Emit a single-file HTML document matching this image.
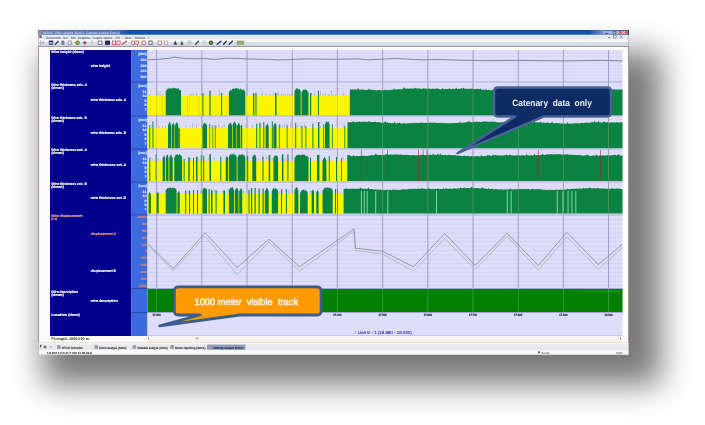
<!DOCTYPE html>
<html><head><meta charset="utf-8"><style>
html,body{margin:0;padding:0;width:705px;height:425px;overflow:hidden;background:#fff;font-family:"Liberation Sans",sans-serif}
text{font-family:"Liberation Sans",sans-serif;text-rendering:geometricPrecision}
</style></head><body>
<svg width="705" height="425" viewBox="0 0 705 425" style="position:absolute;left:0;top:0;filter:blur(0.45px)">
<defs><filter id="sh" x="-20%" y="-20%" width="140%" height="140%"><feGaussianBlur stdDeviation="16"/></filter></defs>
<rect x="43" y="52" width="618" height="333" fill="#000" opacity="0.53" filter="url(#sh)"/>
<rect x="38" y="30" width="591" height="325" fill="#fbfaf6"/>
<rect x="38.5" y="30.5" width="590" height="324" fill="none" stroke="#989898" stroke-width="1"/>
<rect x="38" y="30.2" width="591" height="4.5" fill="#1250b4"/>
<rect x="38" y="30.2" width="591" height="0.7" fill="#0a3e94"/>
<rect x="38" y="34.0" width="591" height="0.7" fill="#0a3e94"/>
<defs><linearGradient id="tg" x1="0" x2="1"><stop offset="0" stop-color="#6a80b8"/><stop offset="0.85" stop-color="#5872b8"/><stop offset="1" stop-color="#1048b0"/></linearGradient><linearGradient id="tg2" x1="0" x2="1"><stop offset="0" stop-color="#1048b0"/><stop offset="1" stop-color="#7890c8"/></linearGradient></defs>
<rect x="38" y="30.2" width="92" height="4.5" fill="url(#tg)"/>
<rect x="588" y="30.2" width="15" height="4.5" fill="url(#tg2)"/>
<rect x="603" y="30.6" width="8" height="3.7" fill="#9ab0d8"/><rect x="611" y="30.6" width="8" height="3.7" fill="#a8b8d8"/><rect x="619" y="30.6" width="9" height="3.7" fill="#c86a6a"/>
<rect x="38.5" y="34.7" width="590" height="2.3" fill="#dceefa"/>
<rect x="38.5" y="37" width="590" height="2.4" fill="#e8e2f0"/>
<rect x="608" y="37.3" width="2.5" height="0.7" fill="#606070"/>
<rect x="613.5" y="35.6" width="2.6" height="2.4" fill="none" stroke="#606070" stroke-width="0.5"/>
<path d="M620,35.6 L622.6,38 M622.6,35.6 L620,38" stroke="#606070" stroke-width="0.6"/>
<path d="M605.5,31.2 L607.8,33.6 M607.8,31.2 L605.5,33.6" stroke="#ffffff" stroke-width="0" />
<rect x="605" y="33" width="3" height="0.7" fill="#303850"/>
<rect x="613" y="31.3" width="3" height="2.5" fill="none" stroke="#303850" stroke-width="0.5"/>
<path d="M622.2,31.2 L625,33.8 M625,31.2 L622.2,33.8" stroke="#ffffff" stroke-width="0.7"/>
<rect x="38.5" y="39.4" width="590" height="2.6" fill="#f2f8f2"/>
<rect x="38.5" y="42" width="590" height="3" fill="#d4deec"/>
<rect x="38.5" y="45" width="590" height="0.8" fill="#e2e6f8"/>
<rect x="38.5" y="45.8" width="590" height="1.1" fill="#84848c"/>
<rect x="39" y="46.9" width="589" height="295" fill="#fffcf8"/>
<rect x="50" y="50" width="81" height="286" fill="#00008c"/>
<rect x="131" y="50" width="16.5" height="286" fill="#3d6ade"/>
<rect x="131" y="50" width="0.9" height="286" fill="#6474e4"/>
<rect x="52.3" y="50" width="1" height="286" fill="#0c0ca6" opacity="0.6"/>
<rect x="61.3" y="50" width="1" height="286" fill="#0c0ca6" opacity="0.6"/>
<rect x="147.5" y="50" width="475" height="286" fill="#dedefa"/>
<rect x="147.5" y="53.1" width="475" height="0.6" fill="#d5d5f3"/>
<rect x="147.5" y="56.2" width="475" height="0.6" fill="#d5d5f3"/>
<rect x="147.5" y="59.3" width="475" height="0.6" fill="#d5d5f3"/>
<rect x="147.5" y="62.4" width="475" height="0.6" fill="#d5d5f3"/>
<rect x="147.5" y="65.5" width="475" height="0.6" fill="#d5d5f3"/>
<rect x="147.5" y="68.6" width="475" height="0.6" fill="#d5d5f3"/>
<rect x="147.5" y="71.7" width="475" height="0.6" fill="#d5d5f3"/>
<rect x="147.5" y="74.8" width="475" height="0.6" fill="#d5d5f3"/>
<rect x="147.5" y="77.9" width="475" height="0.6" fill="#d5d5f3"/>
<rect x="147.5" y="81.0" width="475" height="0.6" fill="#d5d5f3"/>
<rect x="147.5" y="85.1" width="475" height="0.6" fill="#d5d5f3"/>
<rect x="147.5" y="88.2" width="475" height="0.6" fill="#d5d5f3"/>
<rect x="147.5" y="91.3" width="475" height="0.6" fill="#d5d5f3"/>
<rect x="147.5" y="94.4" width="475" height="0.6" fill="#d5d5f3"/>
<rect x="147.5" y="119.1" width="475" height="0.6" fill="#d5d5f3"/>
<rect x="147.5" y="122.2" width="475" height="0.6" fill="#d5d5f3"/>
<rect x="147.5" y="125.3" width="475" height="0.6" fill="#d5d5f3"/>
<rect x="147.5" y="152.1" width="475" height="0.6" fill="#d5d5f3"/>
<rect x="147.5" y="155.2" width="475" height="0.6" fill="#d5d5f3"/>
<rect x="147.5" y="158.3" width="475" height="0.6" fill="#d5d5f3"/>
<rect x="147.5" y="185.1" width="475" height="0.6" fill="#d5d5f3"/>
<rect x="147.5" y="188.2" width="475" height="0.6" fill="#d5d5f3"/>
<rect x="147.5" y="191.3" width="475" height="0.6" fill="#d5d5f3"/>
<rect x="147.5" y="219.4" width="475" height="0.6" fill="#cacaee"/>
<rect x="147.5" y="223.8" width="475" height="0.6" fill="#cacaee"/>
<rect x="147.5" y="228.2" width="475" height="0.6" fill="#cacaee"/>
<rect x="147.5" y="232.6" width="475" height="0.6" fill="#cacaee"/>
<rect x="147.5" y="237.0" width="475" height="0.6" fill="#cacaee"/>
<rect x="147.5" y="241.4" width="475" height="0.6" fill="#cacaee"/>
<rect x="147.5" y="245.8" width="475" height="0.6" fill="#cacaee"/>
<rect x="147.5" y="250.2" width="475" height="0.6" fill="#cacaee"/>
<rect x="147.5" y="254.6" width="475" height="0.6" fill="#cacaee"/>
<rect x="147.5" y="259.0" width="475" height="0.6" fill="#cacaee"/>
<rect x="147.5" y="263.4" width="475" height="0.6" fill="#cacaee"/>
<rect x="147.5" y="267.8" width="475" height="0.6" fill="#cacaee"/>
<rect x="147.5" y="272.2" width="475" height="0.6" fill="#cacaee"/>
<rect x="147.5" y="276.6" width="475" height="0.6" fill="#cacaee"/>
<rect x="147.5" y="281.0" width="475" height="0.6" fill="#cacaee"/>
<rect x="147.5" y="285.4" width="475" height="0.6" fill="#cacaee"/>
<rect x="156.2" y="50" width="0.9" height="262.5" fill="#8c8cc0" opacity="0.85"/>
<rect x="201.4" y="50" width="0.9" height="262.5" fill="#8c8cc0" opacity="0.85"/>
<rect x="246.6" y="50" width="0.9" height="262.5" fill="#8c8cc0" opacity="0.85"/>
<rect x="291.8" y="50" width="0.9" height="262.5" fill="#8c8cc0" opacity="0.85"/>
<rect x="336.9" y="50" width="0.9" height="262.5" fill="#8c8cc0" opacity="0.85"/>
<rect x="382.2" y="50" width="0.9" height="262.5" fill="#8c8cc0" opacity="0.85"/>
<rect x="427.4" y="50" width="0.9" height="262.5" fill="#8c8cc0" opacity="0.85"/>
<rect x="472.6" y="50" width="0.9" height="262.5" fill="#8c8cc0" opacity="0.85"/>
<rect x="517.8" y="50" width="0.9" height="262.5" fill="#8c8cc0" opacity="0.85"/>
<rect x="562.9" y="50" width="0.9" height="262.5" fill="#8c8cc0" opacity="0.85"/>
<rect x="608.1" y="50" width="0.9" height="262.5" fill="#8c8cc0" opacity="0.85"/>
<rect x="147.5" y="95.8" width="202.5" height="19.7" fill="#faf600"/>
<rect x="261.7" y="92.7" width="0.6" height="3.1" fill="#98a0b4"/>
<rect x="265.6" y="92.7" width="0.6" height="3.1" fill="#98a0b4"/>
<rect x="269.5" y="93.9" width="0.6" height="1.9" fill="#98a0b4"/>
<rect x="273.4" y="91.8" width="0.6" height="4.0" fill="#98a0b4"/>
<rect x="281.2" y="94.1" width="0.6" height="1.7" fill="#98a0b4"/>
<rect x="283.5" y="94.0" width="0.6" height="1.8" fill="#98a0b4"/>
<rect x="287.4" y="93.5" width="0.6" height="2.3" fill="#98a0b4"/>
<rect x="291.3" y="93.7" width="0.6" height="2.1" fill="#98a0b4"/>
<rect x="325.0" y="92.9" width="0.6" height="2.9" fill="#98a0b4"/>
<rect x="329.0" y="94.1" width="0.6" height="1.7" fill="#98a0b4"/>
<rect x="332.0" y="94.3" width="0.6" height="1.5" fill="#98a0b4"/>
<rect x="335.0" y="93.7" width="0.6" height="2.1" fill="#98a0b4"/>
<rect x="262.0" y="93.9" width="0.6" height="1.9" fill="#98a0b4"/>
<rect x="343.0" y="92.8" width="0.6" height="3.0" fill="#98a0b4"/>
<rect x="149.5" y="94.2" width="0.6" height="1.6" fill="#98a0b4"/>
<rect x="156.7" y="90.8" width="0.6" height="5.0" fill="#98a0b4"/>
<rect x="159.7" y="91.8" width="0.6" height="4.0" fill="#98a0b4"/>
<rect x="162.6" y="93.7" width="0.6" height="2.1" fill="#98a0b4"/>
<rect x="190.6" y="93.3" width="0.6" height="2.5" fill="#98a0b4"/>
<rect x="192.8" y="92.9" width="0.6" height="2.9" fill="#98a0b4"/>
<rect x="196.4" y="92.8" width="0.6" height="3.0" fill="#98a0b4"/>
<rect x="204.5" y="93.8" width="0.6" height="2.0" fill="#98a0b4"/>
<rect x="209.7" y="90.9" width="0.6" height="4.9" fill="#98a0b4"/>
<rect x="218.9" y="90.3" width="0.6" height="5.5" fill="#98a0b4"/>
<rect x="255.6" y="92.4" width="0.6" height="3.4" fill="#98a0b4"/>
<rect x="277.8" y="92.4" width="0.6" height="3.4" fill="#98a0b4"/>
<rect x="284.9" y="94.0" width="0.6" height="1.8" fill="#98a0b4"/>
<rect x="289.3" y="93.9" width="0.6" height="1.9" fill="#98a0b4"/>
<rect x="311.4" y="92.9" width="0.6" height="2.9" fill="#98a0b4"/>
<rect x="314.2" y="93.2" width="0.6" height="2.6" fill="#98a0b4"/>
<rect x="320.3" y="91.0" width="0.6" height="4.8" fill="#98a0b4"/>
<rect x="322.8" y="93.7" width="0.6" height="2.1" fill="#98a0b4"/>
<rect x="328.3" y="94.2" width="0.6" height="1.6" fill="#98a0b4"/>
<rect x="331.1" y="90.5" width="0.6" height="5.3" fill="#98a0b4"/>
<rect x="161.8" y="96.8" width="0.8" height="18.7" fill="#e8a000" opacity="0.5"/>
<rect x="187.2" y="96.8" width="0.8" height="18.7" fill="#e8a000" opacity="0.5"/>
<rect x="198.5" y="96.8" width="0.8" height="18.7" fill="#e8a000" opacity="0.5"/>
<path d="M165.7,115.5 L165.7,90.8 L166.5,90.5 L167.3,88.2 L168.1,89.4 L168.9,87.3 L169.7,89.0 L170.5,88.0 L171.3,89.2 L172.1,87.7 L172.9,88.5 L173.8,87.4 L174.6,88.4 L175.4,87.8 L176.2,88.9 L177.0,87.9 L177.8,88.9 L178.6,87.8 L179.4,90.2 L180.2,89.7 L181.0,90.8 L181.0,115.5Z" fill="#0a8241"/>
<path d="M228.9,115.5 L228.9,91.4 L229.7,91.5 L230.5,89.5 L231.4,90.4 L232.2,88.7 L233.0,89.2 L233.8,88.2 L234.6,89.2 L235.5,87.6 L236.3,88.8 L237.1,87.9 L237.9,89.1 L238.7,88.3 L239.6,90.0 L240.4,88.1 L241.2,90.1 L242.0,88.9 L242.8,90.6 L243.7,89.0 L244.5,90.8 L245.3,91.4 L245.3,115.5Z" fill="#0a8241"/>
<path d="M294.5,115.5 L294.5,91.4 L295.4,89.7 L296.3,87.9 L297.2,89.0 L298.0,88.2 L298.9,90.0 L299.8,89.1 L300.7,91.4 L300.7,115.5Z" fill="#0a8241"/>
<path d="M301.5,115.5 L301.5,92.2 L302.4,91.0 L303.2,89.2 L304.1,90.6 L305.0,88.5 L305.9,90.4 L306.8,89.5 L307.6,91.4 L308.5,92.2 L308.5,115.5Z" fill="#0a8241"/>
<rect x="202.4" y="93.0" width="1.0" height="22.5" fill="#0a8241"/>
<rect x="209.4" y="90.6" width="1.2" height="24.9" fill="#0a8241"/>
<rect x="221.1" y="93.0" width="1.0" height="22.5" fill="#0a8241"/>
<rect x="253.1" y="93.0" width="1.2" height="22.5" fill="#0a8241"/>
<rect x="255.5" y="93.0" width="1.0" height="22.5" fill="#0a8241"/>
<rect x="275.0" y="93.0" width="1.5" height="22.5" fill="#0a8241"/>
<rect x="310.0" y="93.0" width="1.2" height="22.5" fill="#0a8241"/>
<rect x="317.9" y="90.6" width="1.0" height="24.9" fill="#0a8241"/>
<rect x="349.8" y="92.0" width="1.4" height="23.5" fill="#0a8241"/>
<path d="M350.0,115.5 L350.0,89.2 L350.8,89.3 L351.6,89.8 L352.4,89.4 L353.2,89.6 L354.0,89.2 L354.8,89.7 L355.6,89.2 L356.4,89.8 L357.2,89.4 L358.0,87.6 L358.8,89.6 L359.6,89.8 L360.4,89.8 L361.2,89.4 L362.0,89.4 L362.8,89.7 L363.6,89.6 L364.4,90.0 L365.2,89.7 L366.0,90.0 L366.8,90.1 L367.6,89.8 L368.4,89.5 L369.2,88.2 L370.0,89.7 L370.8,90.1 L371.6,89.8 L372.4,90.0 L373.2,89.7 L374.0,89.9 L374.8,90.3 L375.6,90.1 L376.4,90.4 L377.2,90.2 L378.0,90.1 L378.8,90.1 L379.6,90.1 L380.4,90.3 L381.2,90.5 L382.0,90.2 L382.8,90.4 L383.6,89.9 L384.4,89.8 L385.2,89.8 L386.0,90.3 L386.8,89.8 L387.6,90.1 L388.4,90.3 L389.2,89.8 L390.0,89.9 L390.8,90.2 L391.6,89.6 L392.4,89.8 L393.2,89.5 L394.0,88.7 L394.8,88.7 L395.6,89.7 L396.4,89.2 L397.2,89.7 L398.0,89.1 L398.8,89.0 L399.6,89.2 L400.4,89.2 L401.2,89.4 L402.0,88.9 L402.8,89.1 L403.6,87.5 L404.4,87.4 L405.2,89.0 L406.0,88.6 L406.8,88.6 L407.6,88.8 L408.4,88.8 L409.2,88.6 L410.0,88.7 L410.8,88.4 L411.6,88.4 L412.4,88.5 L413.2,88.8 L414.0,88.6 L414.8,87.6 L415.6,88.3 L416.4,88.6 L417.2,88.6 L418.0,88.3 L418.8,88.6 L419.6,88.8 L420.4,88.6 L421.2,89.0 L422.0,88.9 L422.8,88.8 L423.6,87.9 L424.4,88.4 L425.2,88.6 L426.0,88.5 L426.8,89.0 L427.6,88.7 L428.4,88.7 L429.2,88.6 L430.0,88.7 L430.8,89.2 L431.6,88.8 L432.4,88.8 L433.2,88.6 L434.0,89.0 L434.8,88.8 L435.6,88.7 L436.4,88.8 L437.2,87.8 L438.0,88.9 L438.8,89.1 L439.6,89.2 L440.4,89.4 L441.2,89.0 L442.0,88.9 L442.8,87.8 L443.6,89.4 L444.4,89.3 L445.2,88.8 L446.0,89.1 L446.8,89.3 L447.6,89.1 L448.4,89.1 L449.2,88.1 L450.0,88.9 L450.8,89.2 L451.6,89.0 L452.4,89.0 L453.2,88.5 L454.0,89.0 L454.8,88.9 L455.6,88.5 L456.4,87.8 L457.2,88.9 L458.0,88.9 L458.8,88.7 L459.6,88.7 L460.4,88.9 L461.2,88.1 L462.0,88.5 L462.8,88.6 L463.6,87.5 L464.4,88.8 L465.2,88.8 L466.0,88.7 L466.8,88.7 L467.6,89.0 L468.4,89.1 L469.2,88.4 L470.0,89.0 L470.8,88.8 L471.6,88.6 L472.4,88.7 L473.2,88.7 L474.0,89.3 L474.8,89.2 L475.6,89.3 L476.4,88.9 L477.2,88.5 L478.0,89.2 L478.8,89.1 L479.6,89.2 L480.4,88.2 L481.2,89.6 L482.0,89.7 L482.8,89.8 L483.6,89.5 L484.4,90.0 L485.2,89.6 L486.0,88.9 L486.8,90.0 L487.6,90.1 L488.4,89.7 L489.2,89.7 L490.0,90.3 L490.8,90.2 L491.6,90.3 L492.4,90.1 L493.2,89.8 L494.0,90.1 L494.8,90.2 L495.6,89.9 L496.4,89.9 L497.2,90.1 L498.0,90.4 L498.8,90.0 L499.6,90.1 L500.4,90.1 L501.2,90.0 L502.0,90.5 L502.8,90.0 L503.6,90.5 L504.4,89.9 L505.2,89.9 L506.0,89.8 L506.8,89.9 L507.6,90.3 L508.4,90.0 L509.2,90.0 L510.0,89.0 L510.8,90.3 L511.6,89.9 L512.4,90.1 L513.2,89.7 L514.0,89.7 L514.8,90.1 L515.6,89.3 L516.4,89.8 L517.2,89.6 L518.0,89.3 L518.8,89.9 L519.6,89.8 L520.4,89.3 L521.2,89.2 L522.0,89.6 L522.8,89.6 L523.6,89.6 L524.4,88.1 L525.2,89.2 L526.0,89.5 L526.8,89.1 L527.6,89.5 L528.4,88.0 L529.2,89.4 L530.0,89.2 L530.8,89.0 L531.6,89.3 L532.4,89.5 L533.2,89.4 L534.0,89.2 L534.8,89.5 L535.6,89.1 L536.4,89.5 L537.2,89.3 L538.0,89.7 L538.8,89.1 L539.6,89.4 L540.4,89.3 L541.2,89.7 L542.0,89.3 L542.8,89.4 L543.6,89.4 L544.4,89.7 L545.2,89.9 L546.0,89.4 L546.8,89.5 L547.6,89.9 L548.4,89.5 L549.2,89.9 L550.0,88.3 L550.8,89.9 L551.6,89.7 L552.4,89.9 L553.2,89.3 L554.0,88.4 L554.8,89.4 L555.6,89.4 L556.4,89.1 L557.2,89.3 L558.0,89.1 L558.8,89.1 L559.6,89.5 L560.4,88.1 L561.2,89.1 L562.0,89.0 L562.8,88.4 L563.6,89.3 L564.4,88.1 L565.2,89.3 L566.0,89.1 L566.8,88.8 L567.6,89.2 L568.4,88.6 L569.2,88.6 L570.0,88.4 L570.8,88.9 L571.6,88.1 L572.4,88.6 L573.2,88.9 L574.0,88.3 L574.8,88.5 L575.6,88.2 L576.4,88.6 L577.2,88.6 L578.0,88.2 L578.8,88.2 L579.6,88.0 L580.4,88.5 L581.2,86.8 L582.0,88.2 L582.8,88.6 L583.6,88.1 L584.4,88.0 L585.2,88.5 L586.0,88.2 L586.8,88.4 L587.6,88.6 L588.4,88.5 L589.2,88.7 L590.0,88.5 L590.8,88.7 L591.6,88.4 L592.4,88.3 L593.2,88.7 L594.0,88.6 L594.8,88.7 L595.6,89.0 L596.4,89.2 L597.2,88.8 L598.0,89.1 L598.8,88.6 L599.6,88.7 L600.4,89.4 L601.2,89.4 L602.0,89.4 L602.8,89.0 L603.6,89.5 L604.4,89.3 L605.2,89.1 L606.0,89.1 L606.8,89.2 L607.6,89.5 L608.4,89.1 L609.2,89.6 L610.0,89.3 L610.8,89.7 L611.6,89.2 L612.4,89.4 L613.2,89.6 L614.0,89.3 L614.8,89.5 L615.6,89.4 L616.4,89.4 L617.2,89.4 L618.0,89.8 L618.8,89.4 L619.6,89.7 L620.4,89.2 L621.2,89.4 L622.0,89.4 L622.5,89.3 L622.5,115.5Z" fill="#0a8241"/>
<rect x="147.5" y="128.2" width="200.0" height="20.0" fill="#faf600"/>
<rect x="151.8" y="124.7" width="0.6" height="3.5" fill="#98a0b4"/>
<rect x="158.7" y="125.4" width="0.6" height="2.8" fill="#98a0b4"/>
<rect x="162.0" y="126.6" width="0.6" height="1.6" fill="#98a0b4"/>
<rect x="165.0" y="126.0" width="0.6" height="2.2" fill="#98a0b4"/>
<rect x="185.7" y="126.1" width="0.6" height="2.1" fill="#98a0b4"/>
<rect x="192.5" y="123.0" width="0.6" height="5.2" fill="#98a0b4"/>
<rect x="196.4" y="124.0" width="0.6" height="4.2" fill="#98a0b4"/>
<rect x="209.7" y="123.1" width="0.6" height="5.1" fill="#98a0b4"/>
<rect x="216.2" y="126.0" width="0.6" height="2.2" fill="#98a0b4"/>
<rect x="218.6" y="123.6" width="0.6" height="4.6" fill="#98a0b4"/>
<rect x="221.7" y="126.2" width="0.6" height="2.0" fill="#98a0b4"/>
<rect x="223.9" y="124.6" width="0.6" height="3.6" fill="#98a0b4"/>
<rect x="245.6" y="124.2" width="0.6" height="4.0" fill="#98a0b4"/>
<rect x="252.1" y="125.3" width="0.6" height="2.9" fill="#98a0b4"/>
<rect x="260.7" y="123.2" width="0.6" height="5.0" fill="#98a0b4"/>
<rect x="279.9" y="124.5" width="0.6" height="3.7" fill="#98a0b4"/>
<rect x="282.2" y="124.4" width="0.6" height="3.8" fill="#98a0b4"/>
<rect x="284.3" y="123.2" width="0.6" height="5.0" fill="#98a0b4"/>
<rect x="287.4" y="126.3" width="0.6" height="1.9" fill="#98a0b4"/>
<rect x="290.6" y="122.7" width="0.6" height="5.5" fill="#98a0b4"/>
<rect x="297.1" y="124.2" width="0.6" height="4.0" fill="#98a0b4"/>
<rect x="300.1" y="125.1" width="0.6" height="3.1" fill="#98a0b4"/>
<rect x="304.0" y="123.5" width="0.6" height="4.7" fill="#98a0b4"/>
<rect x="320.4" y="125.6" width="0.6" height="2.6" fill="#98a0b4"/>
<rect x="343.7" y="122.7" width="0.6" height="5.5" fill="#98a0b4"/>
<path d="M168.0,148.2 L168.0,125.2 L169.0,123.3 L170.0,121.8 L171.0,125.2 L171.0,148.2Z" fill="#0a8241"/>
<path d="M171.6,148.2 L171.6,125.7 L172.6,124.0 L173.5,122.4 L174.5,125.7 L174.5,148.2Z" fill="#0a8241"/>
<path d="M175.0,148.2 L175.0,125.2 L176.1,122.8 L177.1,122.2 L178.2,125.2 L178.2,148.2Z" fill="#0a8241"/>
<path d="M178.2,148.2 L178.2,129.2 L179.0,126.7 L179.8,129.2 L179.8,148.2Z" fill="#0a8241"/>
<path d="M202.4,148.2 L202.4,125.7 L203.3,124.4 L204.2,122.2 L205.2,123.9 L206.1,123.2 L207.0,125.7 L207.0,148.2Z" fill="#0a8241"/>
<path d="M228.1,148.2 L228.1,125.7 L229.1,124.0 L230.1,122.6 L231.0,123.6 L232.0,125.7 L232.0,148.2Z" fill="#0a8241"/>
<path d="M232.6,148.2 L232.6,125.2 L233.6,122.8 L234.6,121.4 L235.5,122.9 L236.5,125.2 L236.5,148.2Z" fill="#0a8241"/>
<path d="M237.0,148.2 L237.0,125.7 L238.0,123.9 L239.0,122.4 L240.0,125.7 L240.0,148.2Z" fill="#0a8241"/>
<path d="M240.6,148.2 L240.6,126.2 L241.4,124.2 L242.2,126.2 L242.2,148.2Z" fill="#0a8241"/>
<path d="M265.6,148.2 L265.6,126.8 L266.6,125.3 L267.7,123.2 L268.7,126.8 L268.7,148.2Z" fill="#0a8241"/>
<path d="M273.4,148.2 L273.4,126.0 L274.4,123.7 L275.5,122.9 L276.5,126.0 L276.5,148.2Z" fill="#0a8241"/>
<path d="M324.9,148.2 L324.9,124.7 L325.8,122.5 L326.8,120.9 L327.7,122.5 L328.7,121.3 L329.6,124.7 L329.6,148.2Z" fill="#0a8241"/>
<rect x="149.3" y="125.0" width="0.9" height="23.2" fill="#0a8241"/>
<rect x="152.5" y="121.2" width="0.9" height="27.0" fill="#0a8241"/>
<rect x="209.4" y="124.0" width="0.7" height="24.2" fill="#0a8241"/>
<rect x="212.5" y="125.0" width="0.7" height="23.2" fill="#0a8241"/>
<rect x="214.9" y="125.0" width="0.7" height="23.2" fill="#0a8241"/>
<rect x="256.2" y="123.6" width="1.0" height="24.6" fill="#0a8241"/>
<rect x="259.4" y="122.8" width="1.0" height="25.4" fill="#0a8241"/>
<rect x="263.3" y="122.0" width="1.0" height="26.2" fill="#0a8241"/>
<rect x="271.8" y="121.2" width="1.0" height="27.0" fill="#0a8241"/>
<rect x="278.9" y="124.4" width="0.8" height="23.8" fill="#0a8241"/>
<rect x="286.7" y="124.4" width="0.8" height="23.8" fill="#0a8241"/>
<rect x="295.2" y="122.8" width="1.0" height="25.4" fill="#0a8241"/>
<rect x="301.5" y="126.0" width="0.9" height="22.2" fill="#0a8241"/>
<rect x="305.4" y="126.0" width="0.9" height="22.2" fill="#0a8241"/>
<rect x="312.4" y="123.6" width="1.0" height="24.6" fill="#0a8241"/>
<rect x="318.0" y="122.0" width="1.4" height="26.2" fill="#0a8241"/>
<rect x="323.3" y="124.0" width="0.8" height="24.2" fill="#0a8241"/>
<rect x="331.9" y="124.0" width="0.8" height="24.2" fill="#0a8241"/>
<rect x="344.4" y="126.0" width="0.8" height="22.2" fill="#0a8241"/>
<path d="M347.5,148.2 L347.5,122.4 L348.3,122.1 L349.1,122.2 L349.9,122.5 L350.7,122.0 L351.5,122.3 L352.3,122.3 L353.1,120.7 L353.9,122.1 L354.7,122.2 L355.5,122.3 L356.3,121.8 L357.1,121.7 L357.9,121.9 L358.7,121.6 L359.5,121.6 L360.3,122.2 L361.1,121.6 L361.9,121.8 L362.7,122.0 L363.5,121.7 L364.3,121.5 L365.1,122.0 L365.9,121.5 L366.7,122.0 L367.5,122.0 L368.3,121.6 L369.1,120.7 L369.9,122.0 L370.7,122.1 L371.5,121.7 L372.3,121.9 L373.1,122.0 L373.9,122.1 L374.7,121.8 L375.5,121.7 L376.3,121.9 L377.1,122.5 L377.9,122.1 L378.7,122.1 L379.5,122.6 L380.3,122.5 L381.1,122.7 L381.9,122.7 L382.7,122.8 L383.5,122.7 L384.3,122.5 L385.1,121.3 L385.9,121.8 L386.7,123.1 L387.5,122.0 L388.3,123.0 L389.1,123.1 L389.9,122.7 L390.7,123.0 L391.5,123.3 L392.3,122.8 L393.1,123.5 L393.9,122.9 L394.7,121.5 L395.5,123.5 L396.3,123.5 L397.1,123.2 L397.9,123.1 L398.7,123.1 L399.5,122.5 L400.3,123.2 L401.1,123.3 L401.9,123.7 L402.7,123.6 L403.5,123.0 L404.3,123.3 L405.1,123.2 L405.9,123.4 L406.7,123.6 L407.5,123.5 L408.3,122.9 L409.1,123.4 L409.9,122.9 L410.7,123.2 L411.5,123.0 L412.3,123.0 L413.1,123.0 L413.9,122.9 L414.7,123.2 L415.5,122.8 L416.3,122.7 L417.1,123.1 L417.9,123.0 L418.7,122.9 L419.5,123.2 L420.3,122.3 L421.1,122.7 L421.9,122.8 L422.7,123.1 L423.5,122.8 L424.3,123.0 L425.1,122.9 L425.9,122.7 L426.7,123.0 L427.5,122.9 L428.3,122.7 L429.1,122.8 L429.9,122.8 L430.7,122.6 L431.5,122.7 L432.3,123.1 L433.1,122.6 L433.9,122.7 L434.7,122.6 L435.5,122.7 L436.3,123.1 L437.1,123.2 L437.9,122.8 L438.7,123.2 L439.5,122.9 L440.3,123.1 L441.1,122.8 L441.9,122.7 L442.7,123.2 L443.5,123.1 L444.3,123.1 L445.1,123.2 L445.9,123.3 L446.7,123.1 L447.5,123.3 L448.3,122.9 L449.1,123.4 L449.9,123.3 L450.7,123.2 L451.5,123.1 L452.3,123.2 L453.1,123.0 L453.9,123.2 L454.7,122.9 L455.5,123.0 L456.3,122.9 L457.1,123.3 L457.9,123.0 L458.7,122.8 L459.5,122.0 L460.3,122.6 L461.1,123.1 L461.9,122.5 L462.7,122.7 L463.5,122.6 L464.3,122.8 L465.1,122.5 L465.9,122.3 L466.7,122.3 L467.5,122.1 L468.3,121.3 L469.1,121.2 L469.9,122.2 L470.7,122.1 L471.5,121.9 L472.3,122.4 L473.1,121.8 L473.9,121.9 L474.7,121.7 L475.5,122.1 L476.3,121.8 L477.1,121.6 L477.9,121.7 L478.7,122.0 L479.5,121.7 L480.3,121.7 L481.1,121.9 L481.9,121.9 L482.7,121.6 L483.5,121.6 L484.3,121.3 L485.1,121.5 L485.9,121.5 L486.7,121.6 L487.5,121.8 L488.3,122.0 L489.1,121.4 L489.9,122.0 L490.7,121.5 L491.5,121.3 L492.3,122.1 L493.1,121.7 L493.9,121.6 L494.7,122.1 L495.5,121.7 L496.3,122.2 L497.1,122.3 L497.9,122.3 L498.7,122.4 L499.5,122.4 L500.3,122.3 L501.1,122.4 L501.9,122.5 L502.7,122.1 L503.5,122.1 L504.3,122.1 L505.1,122.2 L505.9,122.4 L506.7,121.3 L507.5,122.5 L508.3,122.6 L509.1,122.5 L509.9,121.6 L510.7,121.5 L511.5,122.7 L512.3,122.5 L513.1,122.6 L513.9,121.6 L514.7,122.7 L515.5,122.9 L516.3,122.6 L517.1,122.8 L517.9,122.6 L518.7,122.6 L519.5,122.5 L520.3,122.5 L521.1,122.4 L521.9,122.9 L522.7,122.8 L523.5,122.4 L524.3,122.6 L525.1,121.4 L525.9,122.8 L526.7,122.2 L527.5,122.1 L528.3,122.7 L529.1,122.5 L529.9,122.7 L530.7,122.5 L531.5,122.5 L532.3,122.5 L533.1,122.5 L533.9,122.6 L534.7,120.8 L535.5,122.7 L536.3,122.3 L537.1,122.6 L537.9,122.3 L538.7,122.4 L539.5,122.4 L540.3,121.6 L541.1,122.2 L541.9,122.8 L542.7,122.9 L543.5,122.3 L544.3,122.7 L545.1,123.0 L545.9,122.7 L546.7,122.9 L547.5,121.9 L548.3,123.0 L549.1,123.2 L549.9,123.2 L550.7,122.6 L551.5,122.8 L552.3,121.5 L553.1,123.3 L553.9,123.3 L554.7,123.3 L555.5,123.2 L556.3,123.1 L557.1,122.9 L557.9,123.5 L558.7,123.1 L559.5,123.6 L560.3,123.7 L561.1,123.2 L561.9,123.6 L562.7,123.7 L563.5,123.8 L564.3,123.7 L565.1,123.5 L565.9,123.8 L566.7,123.8 L567.5,121.9 L568.3,123.7 L569.1,123.5 L569.9,123.9 L570.7,123.6 L571.5,123.5 L572.3,123.4 L573.1,123.6 L573.9,123.7 L574.7,123.1 L575.5,123.3 L576.3,123.6 L577.1,123.0 L577.9,123.5 L578.7,123.3 L579.5,123.4 L580.3,123.3 L581.1,123.0 L581.9,123.1 L582.7,122.8 L583.5,123.2 L584.3,123.0 L585.1,122.8 L585.9,122.6 L586.7,122.9 L587.5,122.4 L588.3,122.8 L589.1,122.7 L589.9,122.8 L590.7,122.5 L591.5,122.3 L592.3,122.2 L593.1,122.3 L593.9,122.3 L594.7,120.5 L595.5,122.3 L596.3,122.4 L597.1,122.1 L597.9,122.2 L598.7,120.4 L599.5,122.5 L600.3,122.3 L601.1,122.5 L601.9,122.6 L602.7,122.5 L603.5,121.3 L604.3,122.1 L605.1,122.0 L605.9,122.6 L606.7,122.6 L607.5,122.0 L608.3,122.3 L609.1,122.7 L609.9,122.4 L610.7,122.7 L611.5,122.3 L612.3,122.2 L613.1,122.8 L613.9,122.1 L614.7,122.4 L615.5,122.8 L616.3,122.2 L617.1,122.6 L617.9,122.1 L618.7,122.7 L619.5,122.6 L620.3,122.6 L621.1,122.2 L621.9,122.3 L622.5,122.6 L622.5,148.2Z" fill="#0a8241"/>
<rect x="147.5" y="160.8" width="200.0" height="20.2" fill="#faf600"/>
<rect x="151.8" y="157.8" width="0.6" height="3.0" fill="#98a0b4"/>
<rect x="158.5" y="158.6" width="0.6" height="2.2" fill="#98a0b4"/>
<rect x="190.2" y="157.8" width="0.6" height="3.0" fill="#98a0b4"/>
<rect x="197.1" y="156.9" width="0.6" height="3.9" fill="#98a0b4"/>
<rect x="199.5" y="159.3" width="0.6" height="1.5" fill="#98a0b4"/>
<rect x="207.8" y="157.2" width="0.6" height="3.6" fill="#98a0b4"/>
<rect x="210.1" y="157.5" width="0.6" height="3.3" fill="#98a0b4"/>
<rect x="213.8" y="157.2" width="0.6" height="3.6" fill="#98a0b4"/>
<rect x="258.5" y="158.8" width="0.6" height="2.0" fill="#98a0b4"/>
<rect x="262.0" y="156.4" width="0.6" height="4.4" fill="#98a0b4"/>
<rect x="266.0" y="156.0" width="0.6" height="4.8" fill="#98a0b4"/>
<rect x="269.6" y="155.8" width="0.6" height="5.0" fill="#98a0b4"/>
<rect x="271.9" y="158.0" width="0.6" height="2.8" fill="#98a0b4"/>
<rect x="280.9" y="156.5" width="0.6" height="4.3" fill="#98a0b4"/>
<rect x="284.8" y="157.8" width="0.6" height="3.0" fill="#98a0b4"/>
<rect x="287.9" y="156.3" width="0.6" height="4.5" fill="#98a0b4"/>
<rect x="318.2" y="159.1" width="0.6" height="1.7" fill="#98a0b4"/>
<rect x="342.6" y="155.8" width="0.6" height="5.0" fill="#98a0b4"/>
<path d="M162.6,181.0 L162.6,158.2 L163.4,156.8 L164.2,154.9 L165.0,158.2 L165.0,181.0Z" fill="#0a8241"/>
<path d="M165.8,181.0 L165.8,157.4 L166.7,155.4 L167.6,154.2 L168.5,157.4 L168.5,181.0Z" fill="#0a8241"/>
<path d="M169.3,181.0 L169.3,157.7 L170.2,155.9 L171.0,153.9 L171.8,156.4 L172.7,157.7 L172.7,181.0Z" fill="#0a8241"/>
<path d="M174.3,181.0 L174.3,157.4 L175.2,156.0 L176.0,154.0 L176.9,155.0 L177.8,153.9 L178.6,155.8 L179.5,153.7 L180.4,155.2 L181.2,155.3 L182.1,157.4 L182.1,181.0Z" fill="#0a8241"/>
<path d="M225.8,181.0 L225.8,158.2 L226.9,155.8 L228.1,158.2 L228.1,181.0Z" fill="#0a8241"/>
<path d="M228.9,181.0 L228.9,156.7 L229.8,155.1 L230.6,153.7 L231.5,154.8 L232.4,153.4 L233.2,154.9 L234.1,153.0 L235.0,155.4 L235.8,154.6 L236.7,156.7 L236.7,181.0Z" fill="#0a8241"/>
<path d="M237.5,181.0 L237.5,157.4 L238.4,155.8 L239.2,154.0 L240.1,155.4 L241.0,154.1 L241.8,155.1 L242.7,153.8 L243.6,155.5 L244.4,154.7 L245.3,157.4 L245.3,181.0Z" fill="#0a8241"/>
<path d="M252.3,181.0 L252.3,157.4 L253.3,155.7 L254.2,154.5 L255.2,155.1 L256.2,157.4 L256.2,181.0Z" fill="#0a8241"/>
<path d="M273.4,181.0 L273.4,158.2 L274.3,156.6 L275.3,155.2 L276.2,155.8 L277.2,155.6 L278.1,158.2 L278.1,181.0Z" fill="#0a8241"/>
<path d="M294.5,181.0 L294.5,157.4 L295.3,157.5 L296.1,154.9 L297.0,155.8 L297.8,154.6 L298.6,155.5 L299.4,154.0 L300.3,155.9 L301.1,154.4 L301.9,155.2 L302.7,153.8 L303.6,155.2 L304.4,154.1 L305.2,156.2 L306.0,154.9 L306.9,156.8 L307.7,156.0 L308.5,157.4 L308.5,181.0Z" fill="#0a8241"/>
<path d="M322.5,181.0 L322.5,160.2 L323.5,158.8 L324.4,156.5 L325.4,158.4 L326.4,160.2 L326.4,181.0Z" fill="#0a8241"/>
<rect x="149.3" y="157.4" width="1.0" height="23.6" fill="#0a8241"/>
<rect x="155.6" y="154.2" width="1.0" height="26.8" fill="#0a8241"/>
<rect x="183.7" y="159.0" width="0.9" height="22.0" fill="#0a8241"/>
<rect x="188.3" y="157.4" width="1.4" height="23.6" fill="#0a8241"/>
<rect x="193.0" y="158.0" width="1.0" height="23.0" fill="#0a8241"/>
<rect x="196.0" y="156.6" width="1.5" height="24.4" fill="#0a8241"/>
<rect x="200.8" y="155.0" width="1.0" height="26.0" fill="#0a8241"/>
<rect x="203.2" y="155.8" width="1.0" height="25.2" fill="#0a8241"/>
<rect x="209.4" y="154.2" width="1.6" height="26.8" fill="#0a8241"/>
<rect x="220.3" y="156.6" width="1.0" height="24.4" fill="#0a8241"/>
<rect x="246.8" y="156.0" width="1.4" height="25.0" fill="#0a8241"/>
<rect x="262.5" y="156.6" width="1.0" height="24.4" fill="#0a8241"/>
<rect x="268.7" y="155.0" width="1.5" height="26.0" fill="#0a8241"/>
<rect x="282.0" y="154.2" width="1.4" height="26.8" fill="#0a8241"/>
<rect x="287.4" y="154.2" width="1.0" height="26.8" fill="#0a8241"/>
<rect x="310.0" y="157.4" width="1.0" height="23.6" fill="#0a8241"/>
<rect x="317.0" y="155.0" width="2.4" height="26.0" fill="#0a8241"/>
<rect x="328.8" y="156.0" width="1.0" height="25.0" fill="#0a8241"/>
<rect x="336.0" y="157.0" width="1.0" height="24.0" fill="#0a8241"/>
<rect x="341.0" y="158.0" width="0.8" height="23.0" fill="#0a8241"/>
<rect x="347.5" y="155.0" width="2.3" height="26.0" fill="#0a8241"/>
<path d="M347.5,181.0 L347.5,155.8 L348.3,156.1 L349.1,155.0 L349.9,155.3 L350.7,156.4 L351.5,156.3 L352.3,156.3 L353.1,155.1 L353.9,155.9 L354.7,155.9 L355.5,156.4 L356.3,155.9 L357.1,156.0 L357.9,155.9 L358.7,156.2 L359.5,156.1 L360.3,156.0 L361.1,156.0 L361.9,155.7 L362.7,155.7 L363.5,155.9 L364.3,155.7 L365.1,155.9 L365.9,155.9 L366.7,155.9 L367.5,155.9 L368.3,155.7 L369.1,155.6 L369.9,155.4 L370.7,155.5 L371.5,154.6 L372.3,155.6 L373.1,155.4 L373.9,155.1 L374.7,155.1 L375.5,153.5 L376.3,154.1 L377.1,155.0 L377.9,154.7 L378.7,155.3 L379.5,154.7 L380.3,154.8 L381.1,154.9 L381.9,155.0 L382.7,154.9 L383.5,154.9 L384.3,154.9 L385.1,154.9 L385.9,153.5 L386.7,154.6 L387.5,154.9 L388.3,154.5 L389.1,154.8 L389.9,154.4 L390.7,154.5 L391.5,154.4 L392.3,154.6 L393.1,154.4 L393.9,154.8 L394.7,154.5 L395.5,154.4 L396.3,154.6 L397.1,154.3 L397.9,154.5 L398.7,154.9 L399.5,154.4 L400.3,154.3 L401.1,154.8 L401.9,155.0 L402.7,154.8 L403.5,154.8 L404.3,155.0 L405.1,154.8 L405.9,154.8 L406.7,155.0 L407.5,154.7 L408.3,154.9 L409.1,155.0 L409.9,155.3 L410.7,155.0 L411.5,155.4 L412.3,155.1 L413.1,154.9 L413.9,155.4 L414.7,155.1 L415.5,155.4 L416.3,155.3 L417.1,155.4 L417.9,154.9 L418.7,155.1 L419.5,154.9 L420.3,155.2 L421.1,155.0 L421.9,154.2 L422.7,155.3 L423.5,154.3 L424.3,155.3 L425.1,155.2 L425.9,155.0 L426.7,154.8 L427.5,155.0 L428.3,155.0 L429.1,154.7 L429.9,155.1 L430.7,154.6 L431.5,154.9 L432.3,155.0 L433.1,153.2 L433.9,154.7 L434.7,154.7 L435.5,154.7 L436.3,155.1 L437.1,154.7 L437.9,153.2 L438.7,154.9 L439.5,154.8 L440.3,153.1 L441.1,155.1 L441.9,155.1 L442.7,154.7 L443.5,155.2 L444.3,155.2 L445.1,154.8 L445.9,154.7 L446.7,155.2 L447.5,155.2 L448.3,154.8 L449.1,154.8 L449.9,154.9 L450.7,154.9 L451.5,155.1 L452.3,154.9 L453.1,155.5 L453.9,155.1 L454.7,155.2 L455.5,155.1 L456.3,155.4 L457.1,155.7 L457.9,155.4 L458.7,155.4 L459.5,155.9 L460.3,155.5 L461.1,155.9 L461.9,156.2 L462.7,156.2 L463.5,155.7 L464.3,155.7 L465.1,155.8 L465.9,156.1 L466.7,155.9 L467.5,155.9 L468.3,155.9 L469.1,156.2 L469.9,156.4 L470.7,156.3 L471.5,156.1 L472.3,156.0 L473.1,156.5 L473.9,156.4 L474.7,156.3 L475.5,156.3 L476.3,155.9 L477.1,156.0 L477.9,156.4 L478.7,156.1 L479.5,156.4 L480.3,156.4 L481.1,154.7 L481.9,156.2 L482.7,156.0 L483.5,156.2 L484.3,156.2 L485.1,156.1 L485.9,155.7 L486.7,156.1 L487.5,154.8 L488.3,155.6 L489.1,154.8 L489.9,155.8 L490.7,155.9 L491.5,155.8 L492.3,155.6 L493.1,154.0 L493.9,155.7 L494.7,155.2 L495.5,154.7 L496.3,155.2 L497.1,155.2 L497.9,155.6 L498.7,155.5 L499.5,155.5 L500.3,155.2 L501.1,155.6 L501.9,155.6 L502.7,155.4 L503.5,155.4 L504.3,155.0 L505.1,155.2 L505.9,155.6 L506.7,154.1 L507.5,155.5 L508.3,155.3 L509.1,155.4 L509.9,154.2 L510.7,155.2 L511.5,155.2 L512.3,155.5 L513.1,155.2 L513.9,155.4 L514.7,155.7 L515.5,155.2 L516.3,155.2 L517.1,155.3 L517.9,155.5 L518.7,155.2 L519.5,155.5 L520.3,155.7 L521.1,155.2 L521.9,155.4 L522.7,155.2 L523.5,155.3 L524.3,155.4 L525.1,155.4 L525.9,155.4 L526.7,153.6 L527.5,155.6 L528.3,155.6 L529.1,155.5 L529.9,155.4 L530.7,155.2 L531.5,155.0 L532.3,155.4 L533.1,155.6 L533.9,155.1 L534.7,153.6 L535.5,155.4 L536.3,154.9 L537.1,155.4 L537.9,154.8 L538.7,155.3 L539.5,154.9 L540.3,155.2 L541.1,154.8 L541.9,154.8 L542.7,153.5 L543.5,154.8 L544.3,154.9 L545.1,155.0 L545.9,154.6 L546.7,154.4 L547.5,154.3 L548.3,154.3 L549.1,154.8 L549.9,154.1 L550.7,154.2 L551.5,154.0 L552.3,154.6 L553.1,154.3 L553.9,154.4 L554.7,154.3 L555.5,154.3 L556.3,154.5 L557.1,154.1 L557.9,154.3 L558.7,154.2 L559.5,154.0 L560.3,154.3 L561.1,154.6 L561.9,154.7 L562.7,154.5 L563.5,154.1 L564.3,154.5 L565.1,154.6 L565.9,154.5 L566.7,154.4 L567.5,154.1 L568.3,154.8 L569.1,154.4 L569.9,154.7 L570.7,154.7 L571.5,154.9 L572.3,154.6 L573.1,155.2 L573.9,154.7 L574.7,154.9 L575.5,155.1 L576.3,155.1 L577.1,155.0 L577.9,155.0 L578.7,155.4 L579.5,154.2 L580.3,155.6 L581.1,155.6 L581.9,155.2 L582.7,155.6 L583.5,155.7 L584.3,155.3 L585.1,155.6 L585.9,155.3 L586.7,155.3 L587.5,154.3 L588.3,155.4 L589.1,155.8 L589.9,155.9 L590.7,155.9 L591.5,155.9 L592.3,155.4 L593.1,155.5 L593.9,155.8 L594.7,155.4 L595.5,155.8 L596.3,154.6 L597.1,155.3 L597.9,155.8 L598.7,155.9 L599.5,155.4 L600.3,155.5 L601.1,155.6 L601.9,155.2 L602.7,155.7 L603.5,155.5 L604.3,155.6 L605.1,155.2 L605.9,155.5 L606.7,155.6 L607.5,155.1 L608.3,155.2 L609.1,155.7 L609.9,155.1 L610.7,155.6 L611.5,155.3 L612.3,155.2 L613.1,155.3 L613.9,154.6 L614.7,155.2 L615.5,154.7 L616.3,155.4 L617.1,155.5 L617.9,154.2 L618.7,154.3 L619.5,155.1 L620.3,155.7 L621.1,155.4 L621.9,155.5 L622.5,155.3 L622.5,181.0Z" fill="#0a8241"/>
<rect x="360.9" y="149.8" width="0.8" height="31.2" fill="#8a3a30" opacity="0.75"/>
<rect x="387.1" y="149.8" width="0.8" height="31.2" fill="#8a3a30" opacity="0.75"/>
<rect x="418.0" y="149.8" width="0.8" height="31.2" fill="#8a3a30" opacity="0.75"/>
<rect x="422.8" y="149.8" width="0.8" height="31.2" fill="#8a3a30" opacity="0.75"/>
<rect x="426.5" y="149.8" width="0.8" height="31.2" fill="#8a3a30" opacity="0.75"/>
<rect x="537.9" y="149.8" width="0.8" height="31.2" fill="#8a3a30" opacity="0.75"/>
<rect x="600.0" y="149.8" width="0.8" height="31.2" fill="#8a3a30" opacity="0.75"/>
<rect x="147.5" y="193.8" width="196.1" height="19.8" fill="#faf600"/>
<rect x="188.0" y="191.0" width="0.6" height="2.8" fill="#98a0b4"/>
<rect x="200.0" y="190.3" width="0.6" height="3.5" fill="#98a0b4"/>
<rect x="214.5" y="189.9" width="0.6" height="3.9" fill="#98a0b4"/>
<rect x="217.2" y="191.3" width="0.6" height="2.5" fill="#98a0b4"/>
<rect x="222.2" y="190.4" width="0.6" height="3.4" fill="#98a0b4"/>
<rect x="225.3" y="192.2" width="0.6" height="1.6" fill="#98a0b4"/>
<rect x="227.6" y="188.6" width="0.6" height="5.2" fill="#98a0b4"/>
<rect x="243.3" y="190.0" width="0.6" height="3.8" fill="#98a0b4"/>
<rect x="249.3" y="188.3" width="0.6" height="5.5" fill="#98a0b4"/>
<rect x="279.3" y="192.1" width="0.6" height="1.7" fill="#98a0b4"/>
<rect x="282.1" y="189.8" width="0.6" height="4.0" fill="#98a0b4"/>
<rect x="288.6" y="189.4" width="0.6" height="4.4" fill="#98a0b4"/>
<rect x="309.8" y="191.0" width="0.6" height="2.8" fill="#98a0b4"/>
<rect x="337.3" y="191.9" width="0.6" height="1.9" fill="#98a0b4"/>
<rect x="340.1" y="191.7" width="0.6" height="2.1" fill="#98a0b4"/>
<path d="M148.6,213.6 L148.6,194.2 L149.8,191.8 L150.9,194.2 L150.9,213.6Z" fill="#0a8241"/>
<path d="M156.4,213.6 L156.4,193.6 L157.6,191.9 L158.7,193.6 L158.7,213.6Z" fill="#0a8241"/>
<path d="M165.7,213.6 L165.7,190.4 L166.5,189.2 L167.4,188.0 L168.2,188.5 L169.1,187.2 L169.9,188.5 L170.7,187.2 L171.6,188.6 L172.4,187.2 L173.2,188.3 L174.1,187.6 L174.9,188.7 L175.8,188.6 L176.6,190.4 L176.6,213.6Z" fill="#0a8241"/>
<path d="M177.4,213.6 L177.4,193.6 L178.2,191.9 L179.0,190.6 L179.8,193.6 L179.8,213.6Z" fill="#0a8241"/>
<path d="M202.4,213.6 L202.4,190.4 L203.3,188.5 L204.2,187.4 L205.2,189.0 L206.1,187.4 L207.0,190.4 L207.0,213.6Z" fill="#0a8241"/>
<path d="M211.0,213.6 L211.0,191.2 L211.8,188.9 L212.5,191.2 L212.5,213.6Z" fill="#0a8241"/>
<path d="M228.9,213.6 L228.9,190.4 L229.8,188.9 L230.6,187.6 L231.4,188.0 L232.3,186.6 L233.2,188.9 L234.0,190.4 L234.0,213.6Z" fill="#0a8241"/>
<path d="M234.8,213.6 L234.8,190.7 L235.7,189.0 L236.7,187.7 L237.6,188.7 L238.5,190.7 L238.5,213.6Z" fill="#0a8241"/>
<path d="M239.2,213.6 L239.2,191.2 L240.2,189.8 L241.2,187.7 L242.2,191.2 L242.2,213.6Z" fill="#0a8241"/>
<path d="M264.8,213.6 L264.8,191.2 L265.8,189.7 L266.8,187.5 L267.7,188.8 L268.7,191.2 L268.7,213.6Z" fill="#0a8241"/>
<path d="M271.8,213.6 L271.8,191.2 L272.7,189.4 L273.6,187.5 L274.5,189.2 L275.4,188.0 L276.3,188.9 L277.2,189.0 L278.1,191.2 L278.1,213.6Z" fill="#0a8241"/>
<path d="M294.5,213.6 L294.5,190.4 L295.5,188.4 L296.4,186.7 L297.4,188.2 L298.4,190.4 L298.4,213.6Z" fill="#0a8241"/>
<path d="M300.0,213.6 L300.0,192.7 L300.9,191.9 L301.7,190.1 L302.6,190.3 L303.4,188.9 L304.3,191.0 L305.1,189.2 L306.0,191.5 L306.8,190.4 L307.7,192.7 L307.7,213.6Z" fill="#0a8241"/>
<path d="M311.6,213.6 L311.6,191.2 L312.8,189.4 L314.0,191.2 L314.0,213.6Z" fill="#0a8241"/>
<path d="M316.3,213.6 L316.3,192.2 L317.5,190.0 L318.6,192.2 L318.6,213.6Z" fill="#0a8241"/>
<path d="M322.5,213.6 L322.5,190.4 L323.4,190.0 L324.2,187.6 L325.1,188.4 L325.9,187.5 L326.8,187.9 L327.6,187.3 L328.4,187.9 L329.3,187.3 L330.1,188.4 L331.0,188.0 L331.8,189.1 L332.7,190.4 L332.7,213.6Z" fill="#0a8241"/>
<rect x="185.2" y="190.4" width="1.0" height="23.2" fill="#0a8241"/>
<rect x="189.1" y="190.4" width="1.0" height="23.2" fill="#0a8241"/>
<rect x="193.0" y="190.0" width="1.0" height="23.6" fill="#0a8241"/>
<rect x="197.0" y="190.0" width="1.0" height="23.6" fill="#0a8241"/>
<rect x="208.6" y="189.0" width="1.0" height="24.6" fill="#0a8241"/>
<rect x="215.6" y="190.0" width="1.0" height="23.6" fill="#0a8241"/>
<rect x="223.4" y="190.4" width="1.6" height="23.2" fill="#0a8241"/>
<rect x="248.5" y="190.0" width="1.0" height="23.6" fill="#0a8241"/>
<rect x="251.0" y="188.0" width="1.2" height="25.6" fill="#0a8241"/>
<rect x="254.5" y="188.0" width="1.2" height="25.6" fill="#0a8241"/>
<rect x="258.5" y="188.5" width="1.2" height="25.1" fill="#0a8241"/>
<rect x="262.5" y="188.5" width="1.2" height="25.1" fill="#0a8241"/>
<rect x="281.0" y="189.0" width="1.0" height="24.6" fill="#0a8241"/>
<rect x="285.8" y="189.0" width="1.0" height="24.6" fill="#0a8241"/>
<rect x="335.0" y="189.0" width="1.0" height="24.6" fill="#0a8241"/>
<rect x="337.0" y="189.0" width="1.0" height="24.6" fill="#0a8241"/>
<path d="M343.6,213.6 L343.6,189.1 L344.4,188.9 L345.2,188.6 L346.0,188.7 L346.8,188.5 L347.6,188.8 L348.4,189.0 L349.2,188.7 L350.0,188.9 L350.8,188.5 L351.6,188.9 L352.4,188.5 L353.2,188.9 L354.0,188.8 L354.8,188.6 L355.6,188.9 L356.4,188.9 L357.2,188.8 L358.0,188.4 L358.8,189.0 L359.6,188.4 L360.4,187.5 L361.2,188.5 L362.0,188.5 L362.8,188.9 L363.6,188.7 L364.4,189.0 L365.2,188.4 L366.0,189.2 L366.8,188.7 L367.6,188.9 L368.4,187.2 L369.2,189.0 L370.0,188.9 L370.8,189.0 L371.6,189.1 L372.4,189.1 L373.2,189.4 L374.0,189.3 L374.8,189.8 L375.6,189.3 L376.4,189.9 L377.2,189.5 L378.0,188.9 L378.8,189.7 L379.6,189.8 L380.4,189.5 L381.2,189.9 L382.0,189.9 L382.8,190.2 L383.6,190.1 L384.4,189.8 L385.2,190.3 L386.0,189.9 L386.8,189.7 L387.6,189.6 L388.4,190.3 L389.2,190.1 L390.0,189.8 L390.8,189.7 L391.6,190.2 L392.4,189.6 L393.2,189.8 L394.0,189.9 L394.8,188.9 L395.6,190.1 L396.4,189.9 L397.2,189.6 L398.0,189.9 L398.8,189.9 L399.6,189.7 L400.4,189.8 L401.2,189.7 L402.0,189.3 L402.8,189.3 L403.6,189.4 L404.4,189.4 L405.2,189.2 L406.0,189.6 L406.8,189.3 L407.6,189.4 L408.4,189.0 L409.2,189.1 L410.0,189.3 L410.8,188.4 L411.6,189.3 L412.4,188.7 L413.2,188.8 L414.0,188.9 L414.8,188.9 L415.6,188.6 L416.4,189.2 L417.2,188.8 L418.0,189.1 L418.8,188.6 L419.6,188.7 L420.4,188.7 L421.2,188.7 L422.0,188.5 L422.8,188.1 L423.6,189.0 L424.4,188.7 L425.2,189.1 L426.0,189.0 L426.8,188.7 L427.6,189.1 L428.4,187.8 L429.2,188.8 L430.0,188.8 L430.8,189.1 L431.6,188.9 L432.4,189.0 L433.2,188.8 L434.0,189.2 L434.8,189.1 L435.6,188.7 L436.4,189.0 L437.2,189.0 L438.0,188.0 L438.8,189.0 L439.6,189.3 L440.4,189.0 L441.2,189.0 L442.0,189.0 L442.8,189.2 L443.6,187.7 L444.4,189.0 L445.2,189.2 L446.0,187.4 L446.8,188.7 L447.6,189.1 L448.4,188.6 L449.2,189.0 L450.0,188.5 L450.8,188.7 L451.6,189.1 L452.4,189.0 L453.2,188.6 L454.0,188.3 L454.8,188.5 L455.6,188.4 L456.4,188.8 L457.2,188.5 L458.0,188.1 L458.8,188.7 L459.6,188.6 L460.4,187.0 L461.2,188.2 L462.0,188.2 L462.8,188.1 L463.6,188.0 L464.4,187.3 L465.2,188.2 L466.0,188.2 L466.8,187.9 L467.6,187.9 L468.4,188.3 L469.2,188.0 L470.0,188.0 L470.8,187.7 L471.6,186.7 L472.4,187.7 L473.2,187.8 L474.0,188.1 L474.8,188.1 L475.6,188.2 L476.4,187.9 L477.2,187.9 L478.0,188.0 L478.8,187.9 L479.6,188.6 L480.4,188.4 L481.2,188.6 L482.0,186.8 L482.8,188.1 L483.6,188.3 L484.4,188.6 L485.2,188.6 L486.0,188.9 L486.8,188.9 L487.6,188.9 L488.4,187.7 L489.2,188.9 L490.0,188.9 L490.8,188.9 L491.6,188.9 L492.4,188.8 L493.2,188.8 L494.0,189.5 L494.8,189.2 L495.6,189.1 L496.4,189.2 L497.2,189.0 L498.0,189.6 L498.8,189.4 L499.6,189.1 L500.4,189.7 L501.2,189.2 L502.0,189.1 L502.8,189.8 L503.6,189.8 L504.4,189.2 L505.2,189.5 L506.0,189.7 L506.8,189.7 L507.6,189.2 L508.4,189.2 L509.2,189.7 L510.0,188.3 L510.8,189.2 L511.6,189.2 L512.4,189.3 L513.2,189.5 L514.0,189.2 L514.8,189.3 L515.6,189.6 L516.4,189.1 L517.2,189.6 L518.0,189.3 L518.8,189.0 L519.6,189.0 L520.4,189.2 L521.2,189.0 L522.0,189.0 L522.8,189.0 L523.6,189.2 L524.4,188.8 L525.2,189.2 L526.0,189.2 L526.8,189.0 L527.6,188.9 L528.4,188.8 L529.2,189.2 L530.0,189.5 L530.8,189.2 L531.6,189.3 L532.4,188.5 L533.2,189.3 L534.0,188.9 L534.8,189.4 L535.6,189.2 L536.4,189.3 L537.2,189.0 L538.0,189.3 L538.8,189.1 L539.6,189.6 L540.4,189.2 L541.2,189.2 L542.0,189.3 L542.8,189.9 L543.6,189.8 L544.4,189.6 L545.2,189.9 L546.0,189.8 L546.8,189.8 L547.6,189.9 L548.4,189.9 L549.2,189.5 L550.0,189.9 L550.8,189.5 L551.6,190.1 L552.4,190.0 L553.2,190.0 L554.0,189.8 L554.8,190.0 L555.6,189.7 L556.4,189.8 L557.2,189.5 L558.0,190.0 L558.8,190.0 L559.6,189.5 L560.4,189.5 L561.2,189.9 L562.0,189.8 L562.8,189.8 L563.6,189.7 L564.4,189.7 L565.2,189.2 L566.0,189.6 L566.8,189.4 L567.6,188.4 L568.4,188.9 L569.2,189.4 L570.0,189.2 L570.8,189.0 L571.6,188.9 L572.4,189.1 L573.2,188.6 L574.0,189.0 L574.8,188.9 L575.6,188.5 L576.4,188.4 L577.2,188.4 L578.0,188.9 L578.8,188.4 L579.6,188.6 L580.4,188.4 L581.2,188.7 L582.0,188.7 L582.8,188.6 L583.6,187.6 L584.4,188.6 L585.2,188.5 L586.0,188.2 L586.8,188.3 L587.6,188.3 L588.4,188.5 L589.2,187.1 L590.0,188.2 L590.8,188.1 L591.6,188.3 L592.4,188.3 L593.2,188.5 L594.0,188.2 L594.8,188.0 L595.6,188.4 L596.4,188.3 L597.2,188.6 L598.0,187.6 L598.8,188.2 L599.6,188.7 L600.4,188.5 L601.2,188.2 L602.0,188.7 L602.8,188.4 L603.6,188.4 L604.4,188.5 L605.2,188.7 L606.0,188.8 L606.8,189.0 L607.6,188.8 L608.4,188.5 L609.2,189.0 L610.0,188.7 L610.8,188.8 L611.6,188.6 L612.4,188.6 L613.2,188.5 L614.0,188.7 L614.8,189.1 L615.6,188.7 L616.4,188.6 L617.2,188.8 L618.0,188.6 L618.8,188.7 L619.6,188.6 L620.4,189.1 L621.2,189.0 L622.0,188.9 L622.5,189.0 L622.5,213.6Z" fill="#0a8241"/>
<rect x="360.9" y="191.0" width="0.9" height="22.6" fill="#90e0b0"/>
<rect x="363.8" y="191.0" width="0.9" height="22.6" fill="#90e0b0"/>
<rect x="366.7" y="191.0" width="0.9" height="22.6" fill="#90e0b0"/>
<rect x="375.3" y="191.0" width="0.9" height="22.6" fill="#90e0b0"/>
<rect x="387.4" y="191.0" width="0.9" height="22.6" fill="#90e0b0"/>
<rect x="436.1" y="191.0" width="0.9" height="22.6" fill="#90e0b0"/>
<rect x="506.8" y="191.0" width="0.9" height="22.6" fill="#90e0b0"/>
<rect x="510.7" y="191.0" width="0.9" height="22.6" fill="#90e0b0"/>
<rect x="556.8" y="191.0" width="0.9" height="22.6" fill="#90e0b0"/>
<rect x="562.5" y="191.0" width="0.9" height="22.6" fill="#90e0b0"/>
<rect x="567.6" y="191.0" width="0.9" height="22.6" fill="#90e0b0"/>
<rect x="571.5" y="191.0" width="0.9" height="22.6" fill="#90e0b0"/>
<rect x="575.4" y="191.0" width="0.9" height="22.6" fill="#90e0b0"/>
<rect x="156.2" y="84" width="0.9" height="32" fill="#c0a878" opacity="0.4"/>
<rect x="156.2" y="118" width="0.9" height="31" fill="#c0a878" opacity="0.4"/>
<rect x="156.2" y="151" width="0.9" height="31" fill="#c0a878" opacity="0.4"/>
<rect x="156.2" y="184" width="0.9" height="31" fill="#c0a878" opacity="0.4"/>
<rect x="201.4" y="84" width="0.9" height="32" fill="#c0a878" opacity="0.4"/>
<rect x="201.4" y="118" width="0.9" height="31" fill="#c0a878" opacity="0.4"/>
<rect x="201.4" y="151" width="0.9" height="31" fill="#c0a878" opacity="0.4"/>
<rect x="201.4" y="184" width="0.9" height="31" fill="#c0a878" opacity="0.4"/>
<rect x="246.6" y="84" width="0.9" height="32" fill="#c0a878" opacity="0.4"/>
<rect x="246.6" y="118" width="0.9" height="31" fill="#c0a878" opacity="0.4"/>
<rect x="246.6" y="151" width="0.9" height="31" fill="#c0a878" opacity="0.4"/>
<rect x="246.6" y="184" width="0.9" height="31" fill="#c0a878" opacity="0.4"/>
<rect x="291.8" y="84" width="0.9" height="32" fill="#c0a878" opacity="0.4"/>
<rect x="291.8" y="118" width="0.9" height="31" fill="#c0a878" opacity="0.4"/>
<rect x="291.8" y="151" width="0.9" height="31" fill="#c0a878" opacity="0.4"/>
<rect x="291.8" y="184" width="0.9" height="31" fill="#c0a878" opacity="0.4"/>
<rect x="336.9" y="84" width="0.9" height="32" fill="#c0a878" opacity="0.4"/>
<rect x="336.9" y="118" width="0.9" height="31" fill="#c0a878" opacity="0.4"/>
<rect x="336.9" y="151" width="0.9" height="31" fill="#c0a878" opacity="0.4"/>
<rect x="336.9" y="184" width="0.9" height="31" fill="#c0a878" opacity="0.4"/>
<rect x="382.2" y="84" width="0.9" height="32" fill="#c0a878" opacity="0.4"/>
<rect x="382.2" y="118" width="0.9" height="31" fill="#c0a878" opacity="0.4"/>
<rect x="382.2" y="151" width="0.9" height="31" fill="#c0a878" opacity="0.4"/>
<rect x="382.2" y="184" width="0.9" height="31" fill="#c0a878" opacity="0.4"/>
<rect x="427.4" y="84" width="0.9" height="32" fill="#c0a878" opacity="0.4"/>
<rect x="427.4" y="118" width="0.9" height="31" fill="#c0a878" opacity="0.4"/>
<rect x="427.4" y="151" width="0.9" height="31" fill="#c0a878" opacity="0.4"/>
<rect x="427.4" y="184" width="0.9" height="31" fill="#c0a878" opacity="0.4"/>
<rect x="472.6" y="84" width="0.9" height="32" fill="#c0a878" opacity="0.4"/>
<rect x="472.6" y="118" width="0.9" height="31" fill="#c0a878" opacity="0.4"/>
<rect x="472.6" y="151" width="0.9" height="31" fill="#c0a878" opacity="0.4"/>
<rect x="472.6" y="184" width="0.9" height="31" fill="#c0a878" opacity="0.4"/>
<rect x="517.8" y="84" width="0.9" height="32" fill="#c0a878" opacity="0.4"/>
<rect x="517.8" y="118" width="0.9" height="31" fill="#c0a878" opacity="0.4"/>
<rect x="517.8" y="151" width="0.9" height="31" fill="#c0a878" opacity="0.4"/>
<rect x="517.8" y="184" width="0.9" height="31" fill="#c0a878" opacity="0.4"/>
<rect x="562.9" y="84" width="0.9" height="32" fill="#c0a878" opacity="0.4"/>
<rect x="562.9" y="118" width="0.9" height="31" fill="#c0a878" opacity="0.4"/>
<rect x="562.9" y="151" width="0.9" height="31" fill="#c0a878" opacity="0.4"/>
<rect x="562.9" y="184" width="0.9" height="31" fill="#c0a878" opacity="0.4"/>
<rect x="608.1" y="84" width="0.9" height="32" fill="#c0a878" opacity="0.4"/>
<rect x="608.1" y="118" width="0.9" height="31" fill="#c0a878" opacity="0.4"/>
<rect x="608.1" y="151" width="0.9" height="31" fill="#c0a878" opacity="0.4"/>
<rect x="608.1" y="184" width="0.9" height="31" fill="#c0a878" opacity="0.4"/>
<rect x="147.5" y="288.5" width="475" height="24" fill="#008000"/>
<rect x="156.2" y="288.5" width="0.9" height="24" fill="#c8d8c8" opacity="0.3"/>
<rect x="201.4" y="288.5" width="0.9" height="24" fill="#c8d8c8" opacity="0.3"/>
<rect x="246.6" y="288.5" width="0.9" height="24" fill="#c8d8c8" opacity="0.3"/>
<rect x="291.8" y="288.5" width="0.9" height="24" fill="#c8d8c8" opacity="0.3"/>
<rect x="336.9" y="288.5" width="0.9" height="24" fill="#c8d8c8" opacity="0.3"/>
<rect x="382.2" y="288.5" width="0.9" height="24" fill="#c8d8c8" opacity="0.3"/>
<rect x="427.4" y="288.5" width="0.9" height="24" fill="#c8d8c8" opacity="0.3"/>
<rect x="472.6" y="288.5" width="0.9" height="24" fill="#c8d8c8" opacity="0.3"/>
<rect x="517.8" y="288.5" width="0.9" height="24" fill="#c8d8c8" opacity="0.3"/>
<rect x="562.9" y="288.5" width="0.9" height="24" fill="#c8d8c8" opacity="0.3"/>
<rect x="608.1" y="288.5" width="0.9" height="24" fill="#c8d8c8" opacity="0.3"/>
<rect x="147.5" y="335.4" width="475" height="0.8" fill="#b8b8dc"/>
<rect x="147.5" y="81.5" width="475" height="0.9" fill="#a8a8d8"/>
<rect x="131" y="81.5" width="16.5" height="0.9" fill="#2848a8"/>
<rect x="147.5" y="115.5" width="475" height="0.9" fill="#a8a8d8"/>
<rect x="131" y="115.5" width="16.5" height="0.9" fill="#2848a8"/>
<rect x="147.5" y="148.6" width="475" height="0.9" fill="#a8a8d8"/>
<rect x="131" y="148.6" width="16.5" height="0.9" fill="#2848a8"/>
<rect x="147.5" y="181.6" width="475" height="0.9" fill="#a8a8d8"/>
<rect x="131" y="181.6" width="16.5" height="0.9" fill="#2848a8"/>
<rect x="147.5" y="214.6" width="475" height="0.9" fill="#a8a8d8"/>
<rect x="131" y="214.6" width="16.5" height="0.9" fill="#2848a8"/>
<rect x="147.5" y="288.1" width="475" height="0.9" fill="#a8a8d8"/>
<rect x="131" y="288.1" width="16.5" height="0.9" fill="#2848a8"/>
<rect x="147.5" y="312.1" width="475" height="0.9" fill="#a8a8d8"/>
<rect x="131" y="312.1" width="16.5" height="0.9" fill="#2848a8"/>
<polyline points="147.5,59.8 158.4,59.3 169.7,58.2 174.8,57.1 178.8,57.9 186.7,58.5 198.0,58.8 203.7,58.5 215.1,59.4 226.5,58.2 239.8,58.5 247.7,59.0 270.4,59.4 276.0,59.9 287.4,59.7 293.0,59.5 304.5,58.8 336.3,59.3 359.0,58.8 368.0,59.9 395.3,58.4 422.6,59.9 436.2,59.5 460.0,60.2 483.4,60.7 518.5,60.4 542.0,60.7 565.4,60.9 600.5,60.4 622.5,60.9" fill="none" stroke="#7a8c98" stroke-width="1.0"/>
<polyline points="147.5,245.2 173.2,271.1 205.2,236.4 237.1,274.6 269.0,242.0 299.5,271.1 354.1,231.2 355.8,250.4 382.4,254.1 413.5,271.1 444.7,238.5 475.2,269.7 507.0,236.2 538.3,270.2 566.9,237.0 598.3,269.3 622.5,247.5" fill="none" stroke="#a4c0b8" stroke-width="0.9"/>
<polyline points="147.5,243.3 173.2,268.6 205.2,232.8 237.1,267.6 269.0,239.2 299.5,266.8 354.1,228.8 355.3,248.2 382.4,251.2 413.5,266.8 444.7,233.5 475.2,265.4 507.0,233.3 538.3,265.6 566.9,232.4 598.3,264.6 622.5,244.2" fill="none" stroke="#74808c" stroke-width="0.7"/>
<text x="51.2" y="53.1" font-size="3.60" fill="#fff" font-weight="bold" text-anchor="start" textLength="32.6" lengthAdjust="spacingAndGlyphs" stroke="#fff" stroke-width="0.15">Wire height (dmm)</text>
<text x="90.8" y="66.8" font-size="3.60" fill="#fff" font-weight="bold" text-anchor="start" textLength="19.2" lengthAdjust="spacingAndGlyphs" stroke="#fff" stroke-width="0.15">wire height</text>
<text x="51.2" y="86.0" font-size="3.60" fill="#fff" font-weight="bold" text-anchor="start" textLength="35.8" lengthAdjust="spacingAndGlyphs" stroke="#fff" stroke-width="0.15">Wire thickness ads. A</text>
<text x="51.2" y="89.0" font-size="3.60" fill="#fff" font-weight="bold" text-anchor="start" textLength="12.8" lengthAdjust="spacingAndGlyphs" stroke="#fff" stroke-width="0.15">(dmm)</text>
<text x="90.8" y="101.1" font-size="3.60" fill="#fff" font-weight="bold" text-anchor="start" textLength="35.4" lengthAdjust="spacingAndGlyphs" stroke="#fff" stroke-width="0.15">wire thickness ads. A</text>
<text x="51.2" y="118.5" font-size="3.60" fill="#fff" font-weight="bold" text-anchor="start" textLength="35.8" lengthAdjust="spacingAndGlyphs" stroke="#fff" stroke-width="0.15">Wire thickness ads. B</text>
<text x="51.2" y="121.5" font-size="3.60" fill="#fff" font-weight="bold" text-anchor="start" textLength="12.8" lengthAdjust="spacingAndGlyphs" stroke="#fff" stroke-width="0.15">(dmm)</text>
<text x="90.8" y="133.7" font-size="3.60" fill="#fff" font-weight="bold" text-anchor="start" textLength="35.4" lengthAdjust="spacingAndGlyphs" stroke="#fff" stroke-width="0.15">wire thickness ads. B</text>
<text x="51.2" y="151.3" font-size="3.60" fill="#fff" font-weight="bold" text-anchor="start" textLength="35.8" lengthAdjust="spacingAndGlyphs" stroke="#fff" stroke-width="0.15">Wire thickness ext. A</text>
<text x="51.2" y="154.3" font-size="3.60" fill="#fff" font-weight="bold" text-anchor="start" textLength="12.8" lengthAdjust="spacingAndGlyphs" stroke="#fff" stroke-width="0.15">(dmm)</text>
<text x="90.8" y="166.3" font-size="3.60" fill="#fff" font-weight="bold" text-anchor="start" textLength="35.4" lengthAdjust="spacingAndGlyphs" stroke="#fff" stroke-width="0.15">wire thickness ext. A</text>
<text x="51.2" y="184.5" font-size="3.60" fill="#fff" font-weight="bold" text-anchor="start" textLength="35.8" lengthAdjust="spacingAndGlyphs" stroke="#fff" stroke-width="0.15">Wire thickness ext. B</text>
<text x="51.2" y="187.5" font-size="3.60" fill="#fff" font-weight="bold" text-anchor="start" textLength="12.8" lengthAdjust="spacingAndGlyphs" stroke="#fff" stroke-width="0.15">(dmm)</text>
<text x="90.8" y="199.4" font-size="3.60" fill="#fff" font-weight="bold" text-anchor="start" textLength="35.4" lengthAdjust="spacingAndGlyphs" stroke="#fff" stroke-width="0.15">wire thickness ext. B</text>
<text x="51.2" y="217.4" font-size="3.60" fill="#f0a088" font-weight="bold" text-anchor="start" textLength="31.3" lengthAdjust="spacingAndGlyphs" stroke="#f0a088" stroke-width="0.15">Wire displacement</text>
<text x="51.2" y="220.4" font-size="3.60" fill="#f0a088" font-weight="bold" text-anchor="start" textLength="6.0" lengthAdjust="spacingAndGlyphs" stroke="#f0a088" stroke-width="0.15">(1:1)</text>
<text x="90.8" y="235.1" font-size="3.60" fill="#ff9870" font-weight="bold" text-anchor="start" textLength="25.2" lengthAdjust="spacingAndGlyphs" stroke="#ff9870" stroke-width="0.15">displacement A</text>
<text x="51.2" y="292.6" font-size="3.60" fill="#fff" font-weight="bold" text-anchor="start" textLength="27.0" lengthAdjust="spacingAndGlyphs" stroke="#fff" stroke-width="0.15">Wire description</text>
<text x="51.2" y="295.6" font-size="3.60" fill="#fff" font-weight="bold" text-anchor="start" textLength="12.8" lengthAdjust="spacingAndGlyphs" stroke="#fff" stroke-width="0.15">(dmm)</text>
<text x="90.8" y="301.6" font-size="3.60" fill="#fff" font-weight="bold" text-anchor="start" textLength="27.0" lengthAdjust="spacingAndGlyphs" stroke="#fff" stroke-width="0.15">wire description</text>
<text x="51.2" y="316.0" font-size="3.60" fill="#fff" font-weight="bold" text-anchor="start" textLength="28.7" lengthAdjust="spacingAndGlyphs" stroke="#fff" stroke-width="0.15">Location (dmm)</text>
<text x="90.8" y="272.2" font-size="3.60" fill="#fff" font-weight="bold" text-anchor="start" textLength="25.2" lengthAdjust="spacingAndGlyphs" stroke="#fff" stroke-width="0.15">displacement B</text>
<text x="146.6" y="54.5" font-size="3.40" fill="#e4ecff" font-weight="bold" text-anchor="end" textLength="8.2" lengthAdjust="spacingAndGlyphs" stroke="#e4ecff" stroke-width="0.12">[dm]</text>
<text x="146.6" y="60.7" font-size="3.40" fill="#e4ecff" font-weight="bold" text-anchor="end" textLength="6.1" lengthAdjust="spacingAndGlyphs" stroke="#e4ecff" stroke-width="0.12">330</text>
<text x="146.6" y="66.6" font-size="3.40" fill="#e4ecff" font-weight="bold" text-anchor="end" textLength="6.1" lengthAdjust="spacingAndGlyphs" stroke="#e4ecff" stroke-width="0.12">320</text>
<text x="146.6" y="72.1" font-size="3.40" fill="#e4ecff" font-weight="bold" text-anchor="end" textLength="6.1" lengthAdjust="spacingAndGlyphs" stroke="#e4ecff" stroke-width="0.12">310</text>
<text x="146.6" y="77.9" font-size="3.40" fill="#e4ecff" font-weight="bold" text-anchor="end" textLength="6.1" lengthAdjust="spacingAndGlyphs" stroke="#e4ecff" stroke-width="0.12">300</text>
<text x="146.6" y="86.5" font-size="3.40" fill="#e4ecff" font-weight="bold" text-anchor="end" textLength="8.2" lengthAdjust="spacingAndGlyphs" stroke="#e4ecff" stroke-width="0.12">[mm]</text>
<text x="146.6" y="92.5" font-size="3.40" fill="#e4ecff" font-weight="bold" text-anchor="end" textLength="4.1" lengthAdjust="spacingAndGlyphs" stroke="#e4ecff" stroke-width="0.12">11</text>
<text x="146.6" y="97.1" font-size="3.40" fill="#e4ecff" font-weight="bold" text-anchor="end" textLength="4.1" lengthAdjust="spacingAndGlyphs" stroke="#e4ecff" stroke-width="0.12">10</text>
<text x="146.6" y="101.7" font-size="3.40" fill="#e4ecff" font-weight="bold" text-anchor="end" textLength="2.0" lengthAdjust="spacingAndGlyphs" stroke="#e4ecff" stroke-width="0.12">9</text>
<text x="146.6" y="106.3" font-size="3.40" fill="#e4ecff" font-weight="bold" text-anchor="end" textLength="2.0" lengthAdjust="spacingAndGlyphs" stroke="#e4ecff" stroke-width="0.12">8</text>
<text x="146.6" y="110.9" font-size="3.40" fill="#e4ecff" font-weight="bold" text-anchor="end" textLength="2.0" lengthAdjust="spacingAndGlyphs" stroke="#e4ecff" stroke-width="0.12">7</text>
<text x="146.6" y="120.5" font-size="3.40" fill="#e4ecff" font-weight="bold" text-anchor="end" textLength="8.2" lengthAdjust="spacingAndGlyphs" stroke="#e4ecff" stroke-width="0.12">[mm]</text>
<text x="146.6" y="126.5" font-size="3.40" fill="#e4ecff" font-weight="bold" text-anchor="end" textLength="4.1" lengthAdjust="spacingAndGlyphs" stroke="#e4ecff" stroke-width="0.12">11</text>
<text x="146.6" y="131.1" font-size="3.40" fill="#e4ecff" font-weight="bold" text-anchor="end" textLength="4.1" lengthAdjust="spacingAndGlyphs" stroke="#e4ecff" stroke-width="0.12">10</text>
<text x="146.6" y="135.7" font-size="3.40" fill="#e4ecff" font-weight="bold" text-anchor="end" textLength="2.0" lengthAdjust="spacingAndGlyphs" stroke="#e4ecff" stroke-width="0.12">9</text>
<text x="146.6" y="140.3" font-size="3.40" fill="#e4ecff" font-weight="bold" text-anchor="end" textLength="2.0" lengthAdjust="spacingAndGlyphs" stroke="#e4ecff" stroke-width="0.12">8</text>
<text x="146.6" y="144.9" font-size="3.40" fill="#e4ecff" font-weight="bold" text-anchor="end" textLength="2.0" lengthAdjust="spacingAndGlyphs" stroke="#e4ecff" stroke-width="0.12">7</text>
<text x="146.6" y="153.5" font-size="3.40" fill="#e4ecff" font-weight="bold" text-anchor="end" textLength="8.2" lengthAdjust="spacingAndGlyphs" stroke="#e4ecff" stroke-width="0.12">[mm]</text>
<text x="146.6" y="159.5" font-size="3.40" fill="#e4ecff" font-weight="bold" text-anchor="end" textLength="4.1" lengthAdjust="spacingAndGlyphs" stroke="#e4ecff" stroke-width="0.12">11</text>
<text x="146.6" y="164.1" font-size="3.40" fill="#e4ecff" font-weight="bold" text-anchor="end" textLength="4.1" lengthAdjust="spacingAndGlyphs" stroke="#e4ecff" stroke-width="0.12">10</text>
<text x="146.6" y="168.7" font-size="3.40" fill="#e4ecff" font-weight="bold" text-anchor="end" textLength="2.0" lengthAdjust="spacingAndGlyphs" stroke="#e4ecff" stroke-width="0.12">9</text>
<text x="146.6" y="173.3" font-size="3.40" fill="#e4ecff" font-weight="bold" text-anchor="end" textLength="2.0" lengthAdjust="spacingAndGlyphs" stroke="#e4ecff" stroke-width="0.12">8</text>
<text x="146.6" y="177.9" font-size="3.40" fill="#e4ecff" font-weight="bold" text-anchor="end" textLength="2.0" lengthAdjust="spacingAndGlyphs" stroke="#e4ecff" stroke-width="0.12">7</text>
<text x="146.6" y="186.5" font-size="3.40" fill="#e4ecff" font-weight="bold" text-anchor="end" textLength="8.2" lengthAdjust="spacingAndGlyphs" stroke="#e4ecff" stroke-width="0.12">[mm]</text>
<text x="146.6" y="192.5" font-size="3.40" fill="#e4ecff" font-weight="bold" text-anchor="end" textLength="4.1" lengthAdjust="spacingAndGlyphs" stroke="#e4ecff" stroke-width="0.12">11</text>
<text x="146.6" y="197.1" font-size="3.40" fill="#e4ecff" font-weight="bold" text-anchor="end" textLength="4.1" lengthAdjust="spacingAndGlyphs" stroke="#e4ecff" stroke-width="0.12">10</text>
<text x="146.6" y="201.7" font-size="3.40" fill="#e4ecff" font-weight="bold" text-anchor="end" textLength="2.0" lengthAdjust="spacingAndGlyphs" stroke="#e4ecff" stroke-width="0.12">9</text>
<text x="146.6" y="206.3" font-size="3.40" fill="#e4ecff" font-weight="bold" text-anchor="end" textLength="2.0" lengthAdjust="spacingAndGlyphs" stroke="#e4ecff" stroke-width="0.12">8</text>
<text x="146.6" y="210.9" font-size="3.40" fill="#e4ecff" font-weight="bold" text-anchor="end" textLength="2.0" lengthAdjust="spacingAndGlyphs" stroke="#e4ecff" stroke-width="0.12">7</text>
<text x="146.6" y="218.2" font-size="3.40" fill="#f48c5c" font-weight="bold" text-anchor="end" textLength="9.3" lengthAdjust="spacingAndGlyphs" stroke="#f48c5c" stroke-width="0.12">100000</text>
<text x="146.6" y="225.0" font-size="3.40" fill="#f48c5c" font-weight="bold" text-anchor="end" textLength="4.7" lengthAdjust="spacingAndGlyphs" stroke="#f48c5c" stroke-width="0.12">800</text>
<text x="146.6" y="231.9" font-size="3.40" fill="#f48c5c" font-weight="bold" text-anchor="end" textLength="4.7" lengthAdjust="spacingAndGlyphs" stroke="#f48c5c" stroke-width="0.12">600</text>
<text x="146.6" y="238.7" font-size="3.40" fill="#f48c5c" font-weight="bold" text-anchor="end" textLength="4.7" lengthAdjust="spacingAndGlyphs" stroke="#f48c5c" stroke-width="0.12">400</text>
<text x="146.6" y="245.6" font-size="3.40" fill="#f48c5c" font-weight="bold" text-anchor="end" textLength="4.7" lengthAdjust="spacingAndGlyphs" stroke="#f48c5c" stroke-width="0.12">200</text>
<text x="146.6" y="252.4" font-size="3.40" fill="#f48c5c" font-weight="bold" text-anchor="end" textLength="1.6" lengthAdjust="spacingAndGlyphs" stroke="#f48c5c" stroke-width="0.12">0</text>
<text x="146.6" y="259.2" font-size="3.40" fill="#f48c5c" font-weight="bold" text-anchor="end" textLength="6.2" lengthAdjust="spacingAndGlyphs" stroke="#f48c5c" stroke-width="0.12">-200</text>
<text x="146.6" y="266.1" font-size="3.40" fill="#f48c5c" font-weight="bold" text-anchor="end" textLength="6.2" lengthAdjust="spacingAndGlyphs" stroke="#f48c5c" stroke-width="0.12">-400</text>
<text x="146.6" y="272.9" font-size="3.40" fill="#f48c5c" font-weight="bold" text-anchor="end" textLength="6.2" lengthAdjust="spacingAndGlyphs" stroke="#f48c5c" stroke-width="0.12">-600</text>
<text x="146.6" y="279.8" font-size="3.40" fill="#f48c5c" font-weight="bold" text-anchor="end" textLength="6.2" lengthAdjust="spacingAndGlyphs" stroke="#f48c5c" stroke-width="0.12">-800</text>
<text x="146.6" y="286.6" font-size="3.40" fill="#f48c5c" font-weight="bold" text-anchor="end" textLength="7.8" lengthAdjust="spacingAndGlyphs" stroke="#f48c5c" stroke-width="0.12">-1000</text>
<text x="156.6" y="316.3" font-size="3.20" fill="#202038" font-weight="bold" text-anchor="middle" textLength="8.2" lengthAdjust="spacingAndGlyphs" stroke="#202038" stroke-width="0.15">17.000</text>
<text x="201.8" y="316.3" font-size="3.20" fill="#202038" font-weight="bold" text-anchor="middle" textLength="8.2" lengthAdjust="spacingAndGlyphs" stroke="#202038" stroke-width="0.15">17.100</text>
<text x="247.0" y="316.3" font-size="3.20" fill="#202038" font-weight="bold" text-anchor="middle" textLength="8.2" lengthAdjust="spacingAndGlyphs" stroke="#202038" stroke-width="0.15">17.200</text>
<text x="292.2" y="316.3" font-size="3.20" fill="#202038" font-weight="bold" text-anchor="middle" textLength="8.2" lengthAdjust="spacingAndGlyphs" stroke="#202038" stroke-width="0.15">17.300</text>
<text x="337.4" y="316.3" font-size="3.20" fill="#202038" font-weight="bold" text-anchor="middle" textLength="8.2" lengthAdjust="spacingAndGlyphs" stroke="#202038" stroke-width="0.15">17.400</text>
<text x="382.6" y="316.3" font-size="3.20" fill="#202038" font-weight="bold" text-anchor="middle" textLength="8.2" lengthAdjust="spacingAndGlyphs" stroke="#202038" stroke-width="0.15">17.500</text>
<text x="427.8" y="316.3" font-size="3.20" fill="#202038" font-weight="bold" text-anchor="middle" textLength="8.2" lengthAdjust="spacingAndGlyphs" stroke="#202038" stroke-width="0.15">17.600</text>
<text x="473.0" y="316.3" font-size="3.20" fill="#202038" font-weight="bold" text-anchor="middle" textLength="8.2" lengthAdjust="spacingAndGlyphs" stroke="#202038" stroke-width="0.15">17.700</text>
<text x="518.2" y="316.3" font-size="3.20" fill="#202038" font-weight="bold" text-anchor="middle" textLength="8.2" lengthAdjust="spacingAndGlyphs" stroke="#202038" stroke-width="0.15">17.800</text>
<text x="563.4" y="316.3" font-size="3.20" fill="#202038" font-weight="bold" text-anchor="middle" textLength="8.2" lengthAdjust="spacingAndGlyphs" stroke="#202038" stroke-width="0.15">17.900</text>
<text x="608.6" y="316.3" font-size="3.20" fill="#202038" font-weight="bold" text-anchor="middle" textLength="8.2" lengthAdjust="spacingAndGlyphs" stroke="#202038" stroke-width="0.15">18.000</text>
<text x="384.7" y="334.4" font-size="4.40" fill="#2a2ab0" font-weight="normal" text-anchor="middle" textLength="54.0" lengthAdjust="spacingAndGlyphs" stroke="#2a2ab0" stroke-width="0.1">Line E - 1 (18.980 - 18.030)</text>
<rect x="355" y="331.2" width="0.6" height="2.4" fill="#8080b0"/>
<text x="620.0" y="292.2" font-size="2.40" fill="#50a850" font-weight="normal" text-anchor="end" textLength="38.0" lengthAdjust="spacingAndGlyphs">Description 1:1000 A/B</text>
<rect x="147.5" y="336.2" width="475" height="4.3" fill="#f7f3f1"/>
<rect x="147.5" y="340.6" width="475" height="0.7" fill="#ecd4c4"/>
<rect x="195" y="337.3" width="4" height="2" fill="#c8c0c0"/>
<rect x="148" y="337.5" width="1" height="2" fill="#808080"/>
<rect x="620" y="337.5" width="1" height="2" fill="#808080"/>
<rect x="51" y="336.8" width="2.6" height="2.6" fill="#a0a0a0"/>
<text x="54.2" y="339.6" font-size="3.80" fill="#202020" font-weight="bold" text-anchor="start" textLength="34.8" lengthAdjust="spacingAndGlyphs">Length: 1000,000 m</text>
<rect x="38.5" y="342.4" width="590" height="0.7" fill="#e8d0c0"/>
<rect x="38.5" y="343.1" width="590" height="1.2" fill="#f6f6f6"/>
<rect x="38.5" y="344.3" width="590" height="5.9" fill="#e8e9ec"/>
<rect x="38.5" y="350.2" width="590" height="4.5" fill="#f8f8f8"/>
<rect x="40" y="344.8" width="1.3" height="2.5" fill="#505050"/>
<circle cx="45" cy="347" r="1.5" fill="#707078"/>
<rect x="49" y="346.5" width="3.5" height="1" fill="#b0b0b0"/>
<rect x="207" y="344.6" width="38.4" height="5.2" fill="#8e9cc4"/>
<rect x="207" y="348.6" width="38.4" height="1.2" fill="#90b8c0" opacity="0.7"/>
<rect x="57.0" y="345.2" width="3.6" height="3.6" fill="#9a9aa2"/>
<text x="61.7" y="348.5" font-size="3.10" fill="#26262e" font-weight="normal" text-anchor="start" textLength="21.1" lengthAdjust="spacingAndGlyphs" stroke="#26262e" stroke-width="0.12">NEXUS Connection</text>
<rect x="94.5" y="345.2" width="3.6" height="3.6" fill="#9a9aa2"/>
<text x="99.2" y="348.5" font-size="3.10" fill="#26262e" font-weight="normal" text-anchor="start" textLength="27.3" lengthAdjust="spacingAndGlyphs" stroke="#26262e" stroke-width="0.12">Demo analysis (demo)</text>
<rect x="132.5" y="345.2" width="3.6" height="3.6" fill="#9a9aa2"/>
<text x="137.2" y="348.5" font-size="3.10" fill="#26262e" font-weight="normal" text-anchor="start" textLength="30.5" lengthAdjust="spacingAndGlyphs" stroke="#26262e" stroke-width="0.12">Viewable analysis (demo)</text>
<rect x="170.3" y="345.2" width="3.6" height="3.6" fill="#9a9aa2"/>
<text x="175.0" y="348.5" font-size="3.10" fill="#26262e" font-weight="normal" text-anchor="start" textLength="30.4" lengthAdjust="spacingAndGlyphs" stroke="#26262e" stroke-width="0.12">Demo reporting (demo)</text>
<rect x="208.6" y="345.2" width="3.6" height="3.6" fill="#9a9aa2"/>
<text x="212.7" y="348.5" font-size="3.10" fill="#26262e" font-weight="normal" text-anchor="start" textLength="30.8" lengthAdjust="spacingAndGlyphs" stroke="#26262e" stroke-width="0.12">Catenary analysis (demo)</text>
<text x="47.0" y="353.5" font-size="3.00" fill="#26262e" font-weight="normal" text-anchor="start" textLength="45.0" lengthAdjust="spacingAndGlyphs" stroke="#26262e" stroke-width="0.12">1:0.901  1:0.5  11.7 mm  11.35.34.8</text>
<rect x="538" y="351.3" width="2" height="2" fill="#606060"/>
<text x="541.0" y="353.5" font-size="3.00" fill="#404040" font-weight="normal" text-anchor="start" textLength="8.5" lengthAdjust="spacingAndGlyphs">Tools</text>
<text x="616.0" y="353.5" font-size="3.00" fill="#404040" font-weight="normal" text-anchor="start" textLength="6.0" lengthAdjust="spacingAndGlyphs">NUM</text>
<text x="43.0" y="33.6" font-size="3.40" fill="#e4eaf8" font-weight="normal" text-anchor="start" textLength="77.0" lengthAdjust="spacingAndGlyphs">NEXUS - [Wire analysis (Demo) - Catenary analysis (Demo)]</text>
<rect x="38.6" y="30.6" width="3" height="3.2" fill="#b09080"/>
<text x="46.1" y="38.5" font-size="3.20" fill="#303040" font-weight="normal" text-anchor="start" textLength="14.9" lengthAdjust="spacingAndGlyphs">Connection</text>
<text x="63.1" y="38.5" font-size="3.20" fill="#303040" font-weight="normal" text-anchor="start" textLength="4.7" lengthAdjust="spacingAndGlyphs">Desk</text>
<text x="70.8" y="38.5" font-size="3.20" fill="#303040" font-weight="normal" text-anchor="start" textLength="4.6" lengthAdjust="spacingAndGlyphs">Edit</text>
<text x="78.0" y="38.5" font-size="3.20" fill="#303040" font-weight="normal" text-anchor="start" textLength="12.8" lengthAdjust="spacingAndGlyphs">Graphics</text>
<text x="93.0" y="38.5" font-size="3.20" fill="#303040" font-weight="normal" text-anchor="start" textLength="19.3" lengthAdjust="spacingAndGlyphs">Graphic options</text>
<text x="115.8" y="38.5" font-size="3.20" fill="#303040" font-weight="normal" text-anchor="start" textLength="4.0" lengthAdjust="spacingAndGlyphs">Print</text>
<text x="124.7" y="38.5" font-size="3.20" fill="#303040" font-weight="normal" text-anchor="start" textLength="6.5" lengthAdjust="spacingAndGlyphs">Options</text>
<text x="134.7" y="38.5" font-size="3.20" fill="#303040" font-weight="normal" text-anchor="start" textLength="10.4" lengthAdjust="spacingAndGlyphs">Windows</text>
<text x="148.0" y="38.5" font-size="3.20" fill="#303040" font-weight="normal" text-anchor="start" textLength="1.2" lengthAdjust="spacingAndGlyphs">?</text>
<rect x="39.3" y="35.2" width="2.5" height="2.8" fill="#806a60"/>
<rect x="40.3" y="40.6" width="1" height="4.2" fill="#a0a0a8"/>
<rect x="42.1" y="41.1" width="2" height="3.2" fill="#a0a0a8" opacity="0.6"/>
<rect x="48.8" y="40.6" width="4.5" height="4.2" fill="#303070"/>
<rect x="49.3" y="42.0" width="3.5" height="0.6" fill="#e0e0f0"/>
<rect x="49.3" y="43.4" width="3.5" height="0.6" fill="#e0e0f0"/>
<path d="M55.4,44.2 L58.2,41.2" stroke="#404060" stroke-width="1.4" stroke-linecap="round"/>
<rect x="61.4" y="40.6" width="3.0" height="4.2" fill="#7878a0"/>
<rect x="68.2" y="41.0" width="3.0" height="3.4" fill="#fafafa" stroke="#8888b0" stroke-width="0.8"/>
<circle cx="77.6" cy="42.7" r="1.8" fill="#b8b820" stroke="#303010" stroke-width="0.6"/>
<circle cx="84.8" cy="42.7" r="1.7" fill="#c04868"/>
<rect x="90.8" y="40.6" width="2.5" height="4.2" fill="#c8c8d0"/>
<rect x="98.2" y="41.0" width="3.8" height="3.4" fill="#fafafa" stroke="#606080" stroke-width="0.8"/>
<rect x="105.0" y="40.6" width="5.0" height="4.2" fill="#252555"/>
<rect x="112.4" y="41.0" width="3.2" height="3.4" fill="#fafafa" stroke="#d05050" stroke-width="0.8"/>
<rect x="116.9" y="41.0" width="3.2" height="3.4" fill="#fafafa" stroke="#d05050" stroke-width="0.8"/>
<path d="M122.6,44.2 L126.4,41.2" stroke="#c05050" stroke-width="1.4" stroke-linecap="round"/>
<rect x="131.8" y="41.0" width="2.7" height="3.4" fill="#fafafa" stroke="#c86060" stroke-width="0.8"/>
<rect x="135.9" y="41.0" width="2.7" height="3.4" fill="#fafafa" stroke="#c86060" stroke-width="0.8"/>
<rect x="142.1" y="41.0" width="3.2" height="3.4" fill="#fafafa" stroke="#c06060" stroke-width="0.8"/>
<rect x="148.9" y="41.0" width="3.2" height="3.4" fill="#fafafa" stroke="#605060" stroke-width="0.8"/>
<rect x="158.1" y="41.0" width="3.2" height="3.4" fill="#fafafa" stroke="#c87070" stroke-width="0.8"/>
<rect x="164.4" y="41.0" width="3.2" height="3.4" fill="#fafafa" stroke="#d09090" stroke-width="0.8"/>
<path d="M173.4,44.8 L175.3,40.6 L177.2,44.8 Z" fill="#404040"/>
<path d="M180.2,44.8 L181.9,40.6 L183.6,44.8 Z" fill="#505050"/>
<rect x="187.4" y="40.6" width="4.0" height="4.2" fill="#c8c8c8"/>
<path d="M195.7,44.2 L198.5,41.2" stroke="#405a30" stroke-width="1.4" stroke-linecap="round"/>
<rect x="202.8" y="40.6" width="3.5" height="4.2" fill="#d0d0c8"/>
<circle cx="211.0" cy="42.7" r="1.9" fill="#6a8030" stroke="#303010" stroke-width="0.6"/>
<path d="M217.2,44.2 L221.0,41.2" stroke="#203060" stroke-width="1.4" stroke-linecap="round"/>
<path d="M223.6,44.2 L226.4,41.2" stroke="#303840" stroke-width="1.4" stroke-linecap="round"/>
<path d="M229.1,44.2 L232.4,41.2" stroke="#303840" stroke-width="1.4" stroke-linecap="round"/>
<rect x="236.6" y="40.6" width="7.5" height="4.2" fill="#98a878"/>
<path d="M178.5,286.8 H317 Q321.1,286.8 321.1,291 V311 Q321.1,315 317,315 H240 L159.8,325.9 L200,315 H178.5 Q174.3,315 174.3,311 V291 Q174.3,286.8 178.5,286.8 Z" fill="#ff9a00" stroke="#3b5c8e" stroke-width="2.8" stroke-linejoin="round"/>
<text x="246.3" y="305.0" font-size="9.40" fill="#fff4dc" font-weight="normal" text-anchor="middle" textLength="103.7" lengthAdjust="spacingAndGlyphs" stroke="#fff4dc" stroke-width="0.5">1000&#160;meter&#160; visible&#160; track</text>
<path d="M498,87.5 H607 Q611,87.5 611,91.5 V112.5 Q611,116.4 607,116.4 H544 L457.5,153.2 L515,116.4 H498 Q494,116.4 494,112.5 V91.5 Q494,87.5 498,87.5 Z" fill="#0d2c66" stroke="#4a6294" stroke-width="2.5" stroke-linejoin="round"/>
<text x="552.0" y="106.4" font-size="9.20" fill="#e8eef8" font-weight="bold" text-anchor="middle" textLength="79.6" lengthAdjust="spacingAndGlyphs">Catenary&#160; data&#160; only</text>
</svg>
</body></html>
